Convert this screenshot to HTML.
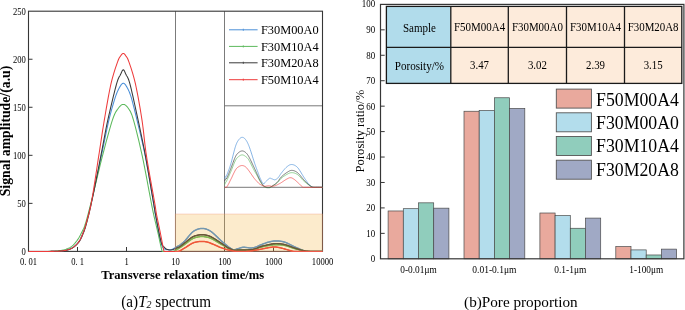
<!DOCTYPE html>
<html><head><meta charset="utf-8"><title>fig</title>
<style>
html,body{margin:0;padding:0;background:#fff;}
body{width:685px;height:310px;position:relative;overflow:hidden;font-family:"Liberation Serif",serif;color:#111;}
svg text{font-family:"Liberation Serif",serif;}
</style></head><body>
<svg width="685" height="310" viewBox="0 0 685 310" style="position:absolute;left:0;top:0;will-change:transform;transform:translateZ(0)" font-family="'Liberation Serif', serif" fill="#000">
<g fill="none" stroke="#6c6c6c" stroke-width="0.9">
<line x1="175.5" y1="11.2" x2="175.5" y2="251.4"/>
<line x1="224.5" y1="11.2" x2="224.5" y2="251.4"/>
<line x1="224.5" y1="105.8" x2="322.5" y2="105.8" stroke="#6a6a6a"/>
<line x1="224.5" y1="187.3" x2="322.5" y2="187.3" stroke="#6a6a6a"/>
</g>
<rect x="28.5" y="11.2" width="294.00" height="240.20" fill="none" stroke="#363636" stroke-width="1.1"/>
<g stroke="#363636" stroke-width="1">
<line x1="28.5" y1="203.36" x2="32.5" y2="203.36"/>
<line x1="28.5" y1="155.32" x2="32.5" y2="155.32"/>
<line x1="28.5" y1="107.28" x2="32.5" y2="107.28"/>
<line x1="28.5" y1="59.24" x2="32.5" y2="59.24"/>
<line x1="77.50" y1="251.4" x2="77.50" y2="247.0"/>
<line x1="126.50" y1="251.4" x2="126.50" y2="247.0"/>
<line x1="175.50" y1="251.4" x2="175.50" y2="247.0"/>
<line x1="224.50" y1="251.4" x2="224.50" y2="247.0"/>
<line x1="273.50" y1="251.4" x2="273.50" y2="247.0"/>
</g>
<path d="M28.40,251.40 L29.76,251.40 L31.59,251.40 L33.78,251.40 L36.23,251.40 L38.82,251.40 L41.45,251.40 L43.99,251.40 L46.33,251.40 L48.37,251.40 L50.00,251.40 L51.23,251.39 L52.20,251.39 L52.95,251.38 L53.52,251.37 L53.98,251.35 L54.35,251.34 L54.69,251.32 L55.05,251.31 L55.47,251.28 L56.00,251.26 L56.60,251.23 L57.20,251.20 L57.80,251.17 L58.40,251.14 L59.00,251.10 L59.60,251.06 L60.20,251.02 L60.80,250.96 L61.40,250.90 L62.00,250.82 L62.60,250.74 L63.21,250.66 L63.82,250.58 L64.42,250.49 L65.03,250.39 L65.64,250.28 L66.24,250.15 L66.83,250.01 L67.42,249.85 L68.00,249.67 L68.57,249.48 L69.13,249.28 L69.69,249.07 L70.24,248.84 L70.78,248.60 L71.32,248.34 L71.87,248.05 L72.41,247.73 L72.95,247.37 L73.50,246.98 L74.06,246.55 L74.62,246.09 L75.20,245.61 L75.77,245.09 L76.34,244.54 L76.91,243.97 L77.46,243.37 L78.00,242.74 L78.51,242.09 L79.00,241.41 L79.46,240.70 L79.91,239.95 L80.34,239.17 L80.75,238.37 L81.14,237.54 L81.53,236.69 L81.91,235.82 L82.28,234.94 L82.64,234.05 L83.00,233.14 L83.34,232.28 L83.66,231.48 L83.95,230.71 L84.23,229.93 L84.51,229.11 L84.80,228.22 L85.10,227.24 L85.43,226.12 L85.79,224.83 L86.20,223.34 L86.63,221.74 L87.07,220.08 L87.52,218.34 L88.00,216.49 L88.49,214.50 L89.02,212.33 L89.59,209.95 L90.21,207.33 L90.88,204.44 L91.60,201.25 L92.41,197.63 L93.30,193.56 L94.26,189.13 L95.27,184.44 L96.31,179.59 L97.36,174.66 L98.41,169.76 L99.43,164.99 L100.40,160.43 L101.30,156.18 L102.15,152.16 L102.97,148.20 L103.77,144.32 L104.54,140.52 L105.29,136.82 L106.03,133.23 L106.76,129.75 L107.48,126.41 L108.19,123.21 L108.90,120.15 L109.61,117.24 L110.32,114.45 L111.02,111.78 L111.71,109.23 L112.39,106.81 L113.06,104.52 L113.71,102.37 L114.33,100.34 L114.93,98.46 L115.50,96.71 L116.04,95.13 L116.55,93.73 L117.04,92.49 L117.51,91.39 L117.96,90.41 L118.39,89.53 L118.80,88.73 L119.21,88.00 L119.61,87.30 L120.00,86.62 L120.38,85.98 L120.74,85.41 L121.08,84.91 L121.41,84.47 L121.73,84.10 L122.04,83.80 L122.35,83.56 L122.66,83.39 L122.98,83.29 L123.30,83.26 L123.63,83.29 L123.94,83.39 L124.26,83.56 L124.57,83.80 L124.88,84.10 L125.20,84.47 L125.53,84.91 L125.87,85.41 L126.23,85.98 L126.60,86.62 L126.99,87.30 L127.38,88.00 L127.79,88.73 L128.20,89.53 L128.63,90.41 L129.07,91.39 L129.53,92.49 L130.00,93.73 L130.49,95.13 L131.00,96.71 L131.52,98.46 L132.06,100.34 L132.61,102.37 L133.17,104.52 L133.76,106.81 L134.36,109.23 L134.98,111.78 L135.63,114.45 L136.30,117.24 L137.00,120.15 L137.74,123.21 L138.52,126.41 L139.33,129.75 L140.17,133.23 L141.03,136.82 L141.90,140.52 L142.77,144.32 L143.63,148.20 L144.48,152.16 L145.30,156.18 L146.13,160.47 L147.00,165.13 L147.88,170.05 L148.77,175.10 L149.64,180.16 L150.48,185.10 L151.27,189.80 L152.00,194.14 L152.65,198.00 L153.20,201.25 L153.64,203.82 L153.97,205.81 L154.22,207.34 L154.40,208.51 L154.53,209.43 L154.64,210.21 L154.76,210.97 L154.89,211.82 L155.06,212.86 L155.30,214.22 L155.59,215.84 L155.91,217.59 L156.25,219.44 L156.60,221.35 L156.97,223.29 L157.34,225.22 L157.70,227.11 L158.05,228.92 L158.39,230.63 L158.70,232.18 L159.00,233.63 L159.29,235.02 L159.57,236.35 L159.84,237.62 L160.11,238.82 L160.36,239.95 L160.61,241.01 L160.85,241.99 L161.08,242.89 L161.30,243.71 L161.51,244.43 L161.69,245.04 L161.87,245.56 L162.03,246.00 L162.19,246.37 L162.34,246.69 L162.50,246.97 L162.66,247.23 L162.82,247.49 L163.00,247.75 L163.19,248.00 L163.37,248.20 L163.56,248.38 L163.75,248.52 L163.95,248.64 L164.15,248.75 L164.35,248.84 L164.56,248.92 L164.78,249.01 L165.00,249.09 L165.23,249.18 L165.45,249.25 L165.68,249.32 L165.92,249.37 L166.16,249.42 L166.40,249.46 L166.66,249.49 L166.93,249.52 L167.21,249.55 L167.50,249.57 L167.81,249.60 L168.12,249.64 L168.44,249.67 L168.78,249.71 L169.12,249.73 L169.48,249.74 L169.84,249.74 L170.22,249.71 L170.60,249.66 L171.00,249.57 L171.41,249.46 L171.84,249.32 L172.28,249.15 L172.73,248.96 L173.19,248.76 L173.65,248.54 L174.12,248.30 L174.58,248.06 L175.05,247.81 L175.50,247.56 L175.95,247.30 L176.39,247.03 L176.83,246.75 L177.28,246.46 L177.72,246.16 L178.16,246.33 L178.61,246.01 L179.07,245.67 L179.53,245.33 L180.00,244.96 L180.47,244.60 L180.94,244.24 L181.40,243.88 L181.87,243.50 L182.34,243.11 L182.83,242.70 L183.34,242.25 L183.86,241.76 L184.42,241.23 L185.00,240.64 L185.63,239.96 L186.30,239.18 L187.02,238.34 L187.75,237.44 L188.50,236.53 L189.25,235.62 L189.98,234.74 L190.70,233.92 L191.37,233.19 L192.00,232.57 L192.58,232.05 L193.13,231.60 L193.65,231.22 L194.14,230.88 L194.62,230.59 L195.10,230.34 L195.56,230.11 L196.03,229.90 L196.51,229.70 L197.00,229.49 L197.50,229.30 L198.00,229.12 L198.50,228.96 L199.00,228.83 L199.50,228.71 L200.00,228.62 L200.50,228.54 L201.00,228.49 L201.50,228.45 L202.00,228.44 L202.50,228.44 L202.99,228.46 L203.48,228.50 L203.98,228.57 L204.47,228.65 L204.96,228.75 L205.46,228.88 L205.97,229.03 L206.48,229.20 L207.00,229.40 L207.52,229.61 L208.02,229.83 L208.53,230.07 L209.03,230.32 L209.54,230.60 L210.07,230.92 L210.63,231.28 L211.21,231.69 L211.83,232.14 L212.50,232.66 L213.23,233.28 L214.04,233.99 L214.90,234.79 L215.79,235.64 L216.70,236.51 L217.60,237.39 L218.49,238.25 L219.33,239.06 L220.10,239.80 L220.80,240.45 L221.42,241.00 L221.98,241.49 L222.50,241.94 L222.98,242.34 L223.43,242.71 L223.86,243.06 L224.27,243.39 L224.68,243.72 L225.08,244.04 L225.50,244.39 L225.91,244.73 L226.31,245.06 L226.69,245.39 L227.06,245.70 L227.42,246.01 L227.78,246.31 L228.14,246.60 L228.52,246.89 L228.90,247.17 L229.30,247.42 L229.72,247.69 L230.14,247.97 L230.58,248.26 L231.02,248.54 L231.47,248.82 L231.92,249.07 L232.37,249.31 L232.82,249.50 L233.26,249.66 L233.70,249.76 L234.13,249.80 L234.56,249.79 L234.98,249.74 L235.39,249.46 L235.81,249.34 L236.23,249.20 L236.66,249.04 L237.10,248.89 L237.54,248.74 L238.00,248.61 L238.48,248.49 L238.97,248.34 L239.48,248.19 L240.00,248.02 L240.52,247.86 L241.04,247.71 L241.55,247.56 L242.05,247.44 L242.54,247.34 L243.00,247.27 L243.44,247.23 L243.86,247.22 L244.27,247.23 L244.66,247.26 L245.05,247.30 L245.43,247.36 L245.82,247.41 L246.20,247.47 L246.60,247.52 L247.00,247.56 L247.41,247.60 L247.82,247.65 L248.23,247.71 L248.64,247.77 L249.05,247.83 L249.47,247.88 L249.89,247.92 L250.32,247.95 L250.75,247.96 L251.20,247.94 L251.66,247.90 L252.13,247.85 L252.61,247.79 L253.09,247.70 L253.58,247.61 L254.07,247.51 L254.56,247.39 L255.05,247.26 L255.53,247.13 L256.00,246.98 L256.45,246.83 L256.86,246.66 L257.26,246.48 L257.64,246.29 L258.04,246.09 L258.45,245.88 L258.89,245.66 L259.37,245.44 L259.90,245.20 L260.50,244.96 L261.17,244.70 L261.91,244.41 L262.71,244.11 L263.54,243.79 L264.41,243.47 L265.29,243.15 L266.17,242.85 L267.04,242.56 L267.89,242.30 L268.70,242.08 L269.48,241.88 L270.24,241.70 L270.99,241.53 L271.73,241.37 L272.47,241.24 L273.21,241.13 L273.96,241.04 L274.72,240.97 L275.50,240.93 L276.30,240.93 L277.12,240.95 L277.96,240.99 L278.81,241.05 L279.67,241.14 L280.54,241.25 L281.42,241.39 L282.30,241.56 L283.20,241.77 L284.10,242.00 L285.00,242.27 L285.92,242.60 L286.86,242.98 L287.83,243.41 L288.80,243.87 L289.77,244.36 L290.74,244.86 L291.69,245.35 L292.62,245.83 L293.53,246.28 L294.40,246.69 L295.25,247.07 L296.08,247.45 L296.91,247.82 L297.72,248.18 L298.51,248.53 L299.27,248.86 L300.00,249.17 L300.71,249.46 L301.37,249.72 L302.00,249.96 L302.58,250.16 L303.11,250.34 L303.61,250.49 L304.07,250.61 L304.51,250.72 L304.92,250.81 L305.32,250.90 L305.71,250.97 L306.10,251.04 L306.50,251.11 L306.85,251.18 L307.12,251.23 L307.34,251.27 L307.54,251.30 L307.74,251.33 L307.99,251.35 L308.31,251.36 L308.73,251.37 L309.29,251.39 L310.00,251.40 L310.95,251.40 L312.14,251.40 L313.51,251.40 L314.99,251.40 L316.52,251.40 L318.03,251.40 L319.46,251.40 L320.74,251.40 L321.81,251.40 L322.60,251.40" fill="none" stroke="#4a8fd8" stroke-width="1.05" stroke-linejoin="round"/>
<path d="M28.40,251.40 L29.63,251.40 L31.28,251.40 L33.27,251.40 L35.48,251.40 L37.82,251.40 L40.20,251.40 L42.50,251.40 L44.64,251.40 L46.50,251.40 L48.00,251.40 L49.15,251.39 L50.07,251.38 L50.80,251.37 L51.38,251.36 L51.85,251.34 L52.25,251.32 L52.63,251.30 L53.02,251.27 L53.46,251.24 L54.00,251.21 L54.60,251.17 L55.20,251.13 L55.80,251.09 L56.40,251.04 L57.00,250.99 L57.60,250.94 L58.20,250.87 L58.80,250.80 L59.40,250.72 L60.00,250.63 L60.60,250.54 L61.20,250.44 L61.80,250.34 L62.40,250.24 L63.00,250.12 L63.60,249.99 L64.20,249.85 L64.80,249.68 L65.40,249.50 L66.00,249.29 L66.60,249.06 L67.21,248.82 L67.82,248.57 L68.42,248.30 L69.03,248.01 L69.64,247.69 L70.24,247.35 L70.83,246.98 L71.42,246.57 L72.00,246.12 L72.58,245.62 L73.15,245.09 L73.72,244.51 L74.29,243.91 L74.86,243.28 L75.41,242.62 L75.95,241.95 L76.48,241.26 L77.00,240.57 L77.50,239.87 L77.98,239.17 L78.45,238.44 L78.90,237.71 L79.34,236.95 L79.76,236.19 L80.18,235.41 L80.59,234.62 L81.00,233.82 L81.40,233.01 L81.80,232.18 L82.18,231.41 L82.54,230.70 L82.88,230.03 L83.22,229.37 L83.55,228.67 L83.89,227.89 L84.25,227.01 L84.63,225.98 L85.04,224.77 L85.50,223.34 L85.98,221.78 L86.46,220.14 L86.95,218.41 L87.46,216.56 L87.99,214.56 L88.57,212.38 L89.19,209.98 L89.86,207.35 L90.59,204.45 L91.40,201.25 L92.30,197.63 L93.29,193.56 L94.36,189.13 L95.48,184.44 L96.64,179.59 L97.83,174.66 L99.01,169.76 L100.18,164.99 L101.32,160.43 L102.40,156.18 L103.46,152.11 L104.53,148.01 L105.61,143.94 L106.68,139.94 L107.74,136.07 L108.76,132.36 L109.75,128.87 L110.70,125.64 L111.58,122.72 L112.40,120.15 L113.14,117.98 L113.81,116.18 L114.41,114.69 L114.97,113.47 L115.49,112.46 L115.99,111.60 L116.48,110.85 L116.97,110.16 L117.47,109.47 L118.00,108.72 L118.54,107.96 L119.08,107.26 L119.61,106.63 L120.14,106.06 L120.67,105.57 L121.19,105.16 L121.72,104.84 L122.24,104.60 L122.77,104.45 L123.30,104.40 L123.83,104.45 L124.37,104.60 L124.90,104.84 L125.44,105.16 L125.97,105.57 L126.51,106.06 L127.04,106.63 L127.57,107.26 L128.09,107.96 L128.60,108.72 L129.09,109.47 L129.54,110.16 L129.98,110.85 L130.40,111.60 L130.83,112.46 L131.28,113.47 L131.76,114.69 L132.28,116.18 L132.85,117.98 L133.50,120.15 L134.22,122.72 L135.01,125.64 L135.86,128.87 L136.74,132.36 L137.66,136.07 L138.60,139.94 L139.54,143.94 L140.48,148.01 L141.41,152.11 L142.30,156.18 L143.20,160.47 L144.14,165.13 L145.11,170.05 L146.08,175.10 L147.04,180.16 L147.96,185.10 L148.84,189.80 L149.65,194.14 L150.38,198.00 L151.00,201.25 L151.50,203.82 L151.88,205.81 L152.18,207.34 L152.40,208.51 L152.58,209.43 L152.74,210.21 L152.89,210.97 L153.08,211.82 L153.30,212.86 L153.60,214.22 L153.96,215.84 L154.36,217.58 L154.79,219.41 L155.24,221.31 L155.69,223.23 L156.15,225.15 L156.60,227.04 L157.03,228.86 L157.43,230.59 L157.80,232.18 L158.14,233.69 L158.46,235.15 L158.76,236.56 L159.06,237.92 L159.33,239.22 L159.59,240.46 L159.84,241.63 L160.07,242.73 L160.29,243.74 L160.50,244.67 L160.69,245.51 L160.86,246.25 L161.01,246.91 L161.14,247.49 L161.27,248.01 L161.38,248.47 L161.49,248.88 L161.59,249.26 L161.70,249.62 L161.80,249.96 L161.89,250.27 L161.95,250.52 L161.99,250.72 L162.03,250.88 L162.07,251.01 L162.12,251.11 L162.18,251.19 L162.28,251.27 L162.42,251.33 L162.60,251.40 L162.82,251.40 L163.07,251.40 L163.35,251.40 L163.65,251.40 L163.97,251.40 L164.33,251.40 L164.71,251.40 L165.11,251.40 L165.54,251.40 L166.00,251.40 L166.51,251.40 L167.07,251.40 L167.69,251.40 L168.33,251.40 L168.99,251.40 L169.66,251.40 L170.30,251.40 L170.92,251.40 L171.49,251.40 L172.00,251.40 L172.45,251.34 L172.84,251.27 L173.20,251.20 L173.53,251.11 L173.84,251.02 L174.15,250.90 L174.46,250.77 L174.78,250.62 L175.12,250.45 L175.50,250.25 L175.91,250.02 L176.33,249.76 L176.76,249.48 L177.20,249.17 L177.66,248.85 L178.12,248.81 L178.58,248.51 L179.05,248.20 L179.53,247.89 L180.00,247.60 L180.47,247.30 L180.94,247.01 L181.40,246.70 L181.87,246.38 L182.34,246.06 L182.83,245.72 L183.34,245.37 L183.86,245.00 L184.42,244.61 L185.00,244.19 L185.63,243.73 L186.30,243.21 L187.02,242.66 L187.75,242.08 L188.50,241.50 L189.25,240.92 L189.98,240.37 L190.70,239.86 L191.37,239.40 L192.00,239.01 L192.58,238.68 L193.13,238.41 L193.65,238.17 L194.14,237.98 L194.62,237.81 L195.10,237.67 L195.56,237.54 L196.03,237.42 L196.51,237.30 L197.00,237.18 L197.50,237.06 L198.00,236.95 L198.50,236.85 L199.00,236.76 L199.50,236.69 L200.00,236.62 L200.50,236.57 L201.00,236.54 L201.50,236.52 L202.00,236.51 L202.50,236.52 L203.00,236.54 L203.50,236.58 L204.00,236.63 L204.51,236.70 L205.01,236.78 L205.51,236.87 L206.01,236.96 L206.50,237.07 L207.00,237.18 L207.48,237.29 L207.94,237.39 L208.38,237.50 L208.81,237.61 L209.26,237.74 L209.71,237.89 L210.20,238.06 L210.72,238.27 L211.28,238.52 L211.90,238.81 L212.59,239.18 L213.36,239.61 L214.19,240.09 L215.06,240.61 L215.94,241.15 L216.83,241.70 L217.70,242.23 L218.53,242.74 L219.30,243.21 L220.00,243.62 L220.63,243.97 L221.21,244.29 L221.76,244.59 L222.27,244.86 L222.76,245.11 L223.22,245.35 L223.67,245.58 L224.11,245.82 L224.55,246.06 L225.00,246.31 L225.44,246.57 L225.85,246.83 L226.25,247.09 L226.64,247.32 L227.02,247.55 L227.40,247.78 L227.78,248.00 L228.17,248.22 L228.58,248.43 L229.00,248.63 L229.44,248.83 L229.90,249.04 L230.37,249.24 L230.85,249.44 L231.33,249.63 L231.82,249.81 L232.30,249.98 L232.77,250.13 L233.24,250.26 L233.70,250.36 L234.14,250.44 L234.57,250.49 L235.00,250.51 L235.42,250.43 L235.83,250.42 L236.25,250.41 L236.67,250.39 L237.10,250.37 L237.54,250.35 L238.00,250.34 L238.46,250.34 L238.90,250.34 L239.35,250.34 L239.80,250.33 L240.26,250.33 L240.74,250.32 L241.24,250.30 L241.78,250.29 L242.37,250.27 L243.00,250.25 L243.71,250.22 L244.49,250.20 L245.33,250.17 L246.21,250.14 L247.11,250.11 L248.01,250.07 L248.89,250.03 L249.73,249.98 L250.50,249.93 L251.20,249.86 L251.82,249.79 L252.38,249.72 L252.90,249.64 L253.38,249.55 L253.83,249.46 L254.26,249.36 L254.69,249.26 L255.11,249.15 L255.55,249.03 L256.00,248.90 L256.45,248.77 L256.86,248.62 L257.26,248.46 L257.64,248.30 L258.04,248.13 L258.45,247.96 L258.89,247.79 L259.37,247.61 L259.90,247.44 L260.50,247.27 L261.17,247.10 L261.91,246.91 L262.71,246.73 L263.54,246.54 L264.41,246.36 L265.29,246.17 L266.17,246.00 L267.04,245.83 L267.89,245.68 L268.70,245.54 L269.48,245.41 L270.24,245.28 L270.99,245.16 L271.73,245.05 L272.47,244.94 L273.21,244.85 L273.96,244.78 L274.72,244.72 L275.50,244.69 L276.30,244.67 L277.12,244.68 L277.96,244.70 L278.81,244.74 L279.67,244.79 L280.54,244.87 L281.42,244.96 L282.30,245.07 L283.20,245.20 L284.10,245.36 L285.00,245.54 L285.92,245.76 L286.86,246.02 L287.83,246.31 L288.80,246.63 L289.77,246.97 L290.74,247.31 L291.69,247.64 L292.62,247.96 L293.53,248.26 L294.40,248.52 L295.25,248.75 L296.08,248.97 L296.91,249.18 L297.72,249.38 L298.51,249.57 L299.27,249.74 L300.00,249.91 L300.71,250.06 L301.37,250.21 L302.00,250.34 L302.58,250.47 L303.11,250.58 L303.61,250.68 L304.07,250.77 L304.51,250.85 L304.92,250.92 L305.32,250.99 L305.71,251.05 L306.10,251.11 L306.50,251.16 L306.85,251.21 L307.12,251.25 L307.34,251.28 L307.54,251.31 L307.74,251.33 L307.99,251.35 L308.31,251.36 L308.73,251.38 L309.29,251.39 L310.00,251.40 L310.95,251.40 L312.14,251.40 L313.51,251.40 L314.99,251.40 L316.52,251.40 L318.03,251.40 L319.46,251.40 L320.74,251.40 L321.81,251.40 L322.60,251.40" fill="none" stroke="#5cb95c" stroke-width="1.05" stroke-linejoin="round"/>
<path d="M28.40,251.40 L29.76,251.40 L31.59,251.40 L33.78,251.40 L36.23,251.40 L38.82,251.40 L41.45,251.40 L43.99,251.40 L46.33,251.40 L48.37,251.40 L50.00,251.40 L51.23,251.39 L52.20,251.38 L52.95,251.37 L53.52,251.36 L53.98,251.35 L54.35,251.33 L54.69,251.32 L55.05,251.30 L55.47,251.28 L56.00,251.26 L56.60,251.23 L57.20,251.21 L57.80,251.19 L58.40,251.17 L59.00,251.14 L59.60,251.12 L60.20,251.08 L60.80,251.04 L61.40,250.98 L62.00,250.92 L62.60,250.85 L63.21,250.78 L63.82,250.70 L64.42,250.62 L65.03,250.53 L65.64,250.43 L66.24,250.32 L66.83,250.18 L67.42,250.03 L68.00,249.86 L68.57,249.68 L69.13,249.49 L69.68,249.30 L70.22,249.09 L70.76,248.87 L71.30,248.62 L71.84,248.34 L72.39,248.02 L72.94,247.67 L73.50,247.27 L74.08,246.83 L74.67,246.34 L75.27,245.83 L75.88,245.27 L76.49,244.69 L77.10,244.08 L77.68,243.45 L78.25,242.79 L78.79,242.11 L79.30,241.41 L79.78,240.69 L80.23,239.93 L80.66,239.15 L81.07,238.35 L81.46,237.52 L81.84,236.68 L82.22,235.81 L82.58,234.93 L82.94,234.04 L83.30,233.14 L83.64,232.28 L83.96,231.48 L84.25,230.71 L84.54,229.93 L84.82,229.11 L85.11,228.22 L85.41,227.24 L85.74,226.12 L86.10,224.83 L86.50,223.34 L86.93,221.74 L87.37,220.08 L87.82,218.34 L88.29,216.49 L88.79,214.50 L89.31,212.33 L89.87,209.95 L90.47,207.33 L91.11,204.44 L91.80,201.25 L92.56,197.63 L93.40,193.56 L94.29,189.13 L95.23,184.44 L96.19,179.59 L97.17,174.66 L98.13,169.76 L99.07,164.99 L99.96,160.43 L100.80,156.18 L101.57,152.22 L102.30,148.40 L102.99,144.71 L103.66,141.12 L104.32,137.60 L104.97,134.13 L105.64,130.67 L106.32,127.21 L107.04,123.71 L107.80,120.15 L108.62,116.44 L109.51,112.54 L110.43,108.54 L111.38,104.51 L112.34,100.54 L113.28,96.69 L114.18,93.06 L115.03,89.72 L115.81,86.75 L116.50,84.22 L117.10,82.17 L117.62,80.54 L118.08,79.25 L118.50,78.25 L118.87,77.47 L119.21,76.85 L119.54,76.31 L119.85,75.81 L120.17,75.26 L120.50,74.61 L120.83,73.89 L121.14,73.19 L121.43,72.52 L121.71,71.88 L121.98,71.31 L122.24,70.81 L122.51,70.39 L122.77,70.08 L123.03,69.88 L123.30,69.81 L123.57,69.88 L123.83,70.08 L124.08,70.39 L124.32,70.81 L124.57,71.31 L124.83,71.88 L125.10,72.52 L125.38,73.19 L125.68,73.89 L126.00,74.61 L126.33,75.26 L126.65,75.81 L126.98,76.31 L127.31,76.85 L127.66,77.47 L128.04,78.25 L128.46,79.25 L128.92,80.54 L129.43,82.17 L130.00,84.22 L130.65,86.75 L131.37,89.72 L132.15,93.06 L132.98,96.69 L133.84,100.54 L134.71,104.51 L135.59,108.54 L136.46,112.54 L137.30,116.44 L138.10,120.15 L138.87,123.71 L139.62,127.21 L140.36,130.67 L141.09,134.13 L141.82,137.60 L142.54,141.12 L143.27,144.71 L144.01,148.40 L144.75,152.22 L145.50,156.18 L146.29,160.47 L147.12,165.13 L147.99,170.05 L148.86,175.10 L149.73,180.16 L150.56,185.10 L151.36,189.80 L152.09,194.14 L152.75,198.00 L153.30,201.25 L153.74,203.82 L154.08,205.81 L154.33,207.34 L154.53,208.51 L154.68,209.43 L154.80,210.21 L154.93,210.97 L155.07,211.82 L155.26,212.86 L155.50,214.22 L155.80,215.84 L156.12,217.61 L156.46,219.47 L156.82,221.40 L157.18,223.35 L157.55,225.29 L157.91,227.18 L158.26,228.98 L158.59,230.66 L158.90,232.18 L159.19,233.57 L159.48,234.89 L159.75,236.13 L160.02,237.30 L160.28,238.40 L160.52,239.42 L160.76,240.37 L160.98,241.24 L161.20,242.03 L161.40,242.75 L161.59,243.37 L161.75,243.88 L161.91,244.29 L162.05,244.61 L162.18,244.88 L162.31,245.10 L162.43,245.28 L162.55,245.46 L162.67,245.63 L162.80,245.83 L162.92,246.02 L163.04,246.17 L163.15,246.29 L163.26,246.39 L163.36,246.48 L163.47,246.56 L163.59,246.65 L163.71,246.74 L163.85,246.85 L164.00,246.98 L164.17,247.14 L164.35,247.32 L164.54,247.51 L164.74,247.71 L164.95,247.91 L165.16,248.11 L165.37,248.31 L165.59,248.49 L165.80,248.66 L166.00,248.81 L166.20,248.93 L166.38,249.05 L166.57,249.15 L166.75,249.25 L166.94,249.33 L167.13,249.41 L167.33,249.48 L167.54,249.55 L167.76,249.61 L168.00,249.67 L168.25,249.73 L168.51,249.79 L168.78,249.85 L169.06,249.91 L169.34,249.96 L169.64,250.00 L169.96,250.02 L170.29,250.02 L170.63,250.00 L171.00,249.96 L171.39,249.89 L171.80,249.80 L172.24,249.69 L172.69,249.56 L173.16,249.41 L173.63,249.25 L174.10,249.08 L174.58,248.90 L175.04,248.71 L175.50,248.52 L175.95,248.32 L176.39,248.11 L176.83,247.89 L177.28,247.65 L177.72,247.41 L178.16,247.58 L178.61,247.34 L179.07,247.09 L179.53,246.81 L180.00,246.50 L180.47,246.18 L180.94,245.86 L181.40,245.52 L181.87,245.17 L182.34,244.81 L182.83,244.44 L183.34,244.04 L183.86,243.63 L184.42,243.20 L185.00,242.75 L185.63,242.26 L186.30,241.71 L187.02,241.12 L187.75,240.52 L188.50,239.90 L189.25,239.29 L189.98,238.71 L190.70,238.17 L191.37,237.69 L192.00,237.28 L192.58,236.93 L193.13,236.64 L193.65,236.40 L194.14,236.19 L194.62,236.02 L195.10,235.86 L195.56,235.73 L196.03,235.60 L196.51,235.48 L197.00,235.35 L197.50,235.23 L198.00,235.12 L198.50,235.02 L199.00,234.93 L199.50,234.86 L200.00,234.79 L200.50,234.75 L201.00,234.71 L201.50,234.69 L202.00,234.68 L202.50,234.69 L203.00,234.71 L203.50,234.75 L204.00,234.79 L204.51,234.86 L205.01,234.93 L205.51,235.02 L206.01,235.12 L206.50,235.23 L207.00,235.35 L207.48,235.48 L207.94,235.61 L208.38,235.74 L208.81,235.88 L209.26,236.04 L209.71,236.22 L210.20,236.43 L210.72,236.67 L211.28,236.95 L211.90,237.28 L212.59,237.66 L213.36,238.12 L214.19,238.63 L215.06,239.17 L215.94,239.73 L216.83,240.30 L217.70,240.87 L218.53,241.41 L219.30,241.92 L220.00,242.37 L220.63,242.78 L221.21,243.16 L221.76,243.53 L222.27,243.88 L222.76,244.21 L223.22,244.52 L223.67,244.83 L224.11,245.14 L224.55,245.43 L225.00,245.73 L225.44,246.02 L225.85,246.31 L226.25,246.58 L226.64,246.85 L227.02,247.10 L227.40,247.33 L227.78,247.55 L228.17,247.77 L228.58,247.99 L229.00,248.20 L229.44,248.42 L229.90,248.64 L230.37,248.86 L230.85,249.08 L231.33,249.29 L231.82,249.49 L232.30,249.68 L232.77,249.85 L233.24,249.99 L233.70,250.10 L234.14,250.19 L234.57,250.24 L235.00,250.27 L235.42,250.15 L235.83,250.14 L236.25,250.13 L236.67,250.10 L237.10,250.08 L237.54,250.06 L238.00,250.05 L238.46,250.05 L238.90,250.05 L239.35,250.05 L239.80,250.04 L240.26,250.03 L240.74,250.02 L241.24,250.01 L241.78,249.99 L242.37,249.98 L243.00,249.96 L243.71,249.94 L244.49,249.93 L245.33,249.91 L246.21,249.90 L247.11,249.88 L248.01,249.86 L248.89,249.83 L249.73,249.79 L250.50,249.74 L251.20,249.67 L251.82,249.59 L252.38,249.51 L252.90,249.41 L253.38,249.30 L253.83,249.19 L254.26,249.07 L254.69,248.94 L255.11,248.81 L255.55,248.66 L256.00,248.52 L256.45,248.36 L256.86,248.20 L257.26,248.03 L257.64,247.85 L258.04,247.66 L258.45,247.47 L258.89,247.28 L259.37,247.08 L259.90,246.89 L260.50,246.69 L261.17,246.49 L261.91,246.29 L262.71,246.07 L263.54,245.85 L264.41,245.64 L265.29,245.42 L266.17,245.22 L267.04,245.02 L267.89,244.84 L268.70,244.67 L269.48,244.52 L270.24,244.37 L270.99,244.22 L271.73,244.08 L272.47,243.95 L273.21,243.84 L273.96,243.75 L274.72,243.68 L275.50,243.63 L276.30,243.62 L277.12,243.63 L277.96,243.66 L278.81,243.71 L279.67,243.78 L280.54,243.88 L281.42,243.99 L282.30,244.13 L283.20,244.29 L284.10,244.47 L285.00,244.67 L285.92,244.92 L286.86,245.20 L287.83,245.52 L288.80,245.87 L289.77,246.23 L290.74,246.60 L291.69,246.96 L292.62,247.31 L293.53,247.64 L294.40,247.94 L295.25,248.22 L296.08,248.49 L296.91,248.75 L297.72,249.00 L298.51,249.24 L299.27,249.47 L300.00,249.69 L300.71,249.89 L301.37,250.08 L302.00,250.25 L302.58,250.40 L303.11,250.53 L303.61,250.64 L304.07,250.74 L304.51,250.83 L304.92,250.91 L305.32,250.98 L305.71,251.04 L306.10,251.10 L306.50,251.16 L306.85,251.21 L307.12,251.25 L307.34,251.29 L307.54,251.32 L307.74,251.34 L307.99,251.35 L308.31,251.37 L308.73,251.38 L309.29,251.39 L310.00,251.40 L310.95,251.40 L312.14,251.40 L313.51,251.40 L314.99,251.40 L316.52,251.40 L318.03,251.40 L319.46,251.40 L320.74,251.40 L321.81,251.40 L322.60,251.40" fill="none" stroke="#3a3a3a" stroke-width="1.05" stroke-linejoin="round"/>
<path d="M28.40,251.40 L29.76,251.40 L31.59,251.40 L33.78,251.40 L36.23,251.40 L38.82,251.40 L41.45,251.40 L43.99,251.40 L46.33,251.40 L48.37,251.40 L50.00,251.40 L51.23,251.39 L52.20,251.38 L52.95,251.37 L53.52,251.36 L53.98,251.35 L54.35,251.33 L54.69,251.32 L55.05,251.30 L55.47,251.28 L56.00,251.26 L56.60,251.23 L57.20,251.21 L57.80,251.19 L58.40,251.17 L59.00,251.15 L59.60,251.12 L60.20,251.09 L60.80,251.04 L61.40,250.99 L62.00,250.92 L62.60,250.84 L63.21,250.77 L63.82,250.68 L64.42,250.59 L65.03,250.49 L65.64,250.38 L66.24,250.25 L66.83,250.11 L67.42,249.95 L68.00,249.77 L68.57,249.57 L69.13,249.37 L69.69,249.17 L70.24,248.94 L70.78,248.70 L71.32,248.44 L71.87,248.15 L72.41,247.83 L72.95,247.47 L73.50,247.08 L74.06,246.64 L74.62,246.17 L75.20,245.68 L75.77,245.15 L76.34,244.59 L76.91,244.00 L77.46,243.39 L78.00,242.76 L78.51,242.09 L79.00,241.41 L79.46,240.69 L79.91,239.95 L80.34,239.17 L80.75,238.36 L81.14,237.53 L81.53,236.69 L81.91,235.82 L82.28,234.94 L82.64,234.05 L83.00,233.14 L83.34,232.28 L83.66,231.48 L83.95,230.71 L84.23,229.93 L84.51,229.11 L84.80,228.22 L85.10,227.24 L85.43,226.12 L85.79,224.83 L86.20,223.34 L86.64,221.74 L87.11,220.08 L87.60,218.34 L88.12,216.49 L88.66,214.50 L89.21,212.33 L89.79,209.95 L90.38,207.33 L90.98,204.44 L91.60,201.25 L92.25,197.63 L92.94,193.56 L93.65,189.13 L94.39,184.44 L95.14,179.59 L95.89,174.66 L96.63,169.76 L97.35,164.99 L98.04,160.43 L98.70,156.18 L99.32,152.22 L99.90,148.40 L100.46,144.71 L101.00,141.12 L101.53,137.60 L102.06,134.13 L102.59,130.67 L103.14,127.21 L103.71,123.71 L104.30,120.15 L104.92,116.50 L105.56,112.74 L106.21,108.93 L106.87,105.11 L107.54,101.32 L108.21,97.59 L108.89,93.98 L109.56,90.52 L110.24,87.25 L110.90,84.22 L111.57,81.38 L112.27,78.67 L112.98,76.09 L113.69,73.65 L114.39,71.35 L115.08,69.19 L115.75,67.19 L116.38,65.34 L116.97,63.65 L117.50,62.12 L117.98,60.81 L118.42,59.72 L118.82,58.82 L119.18,58.09 L119.52,57.50 L119.84,57.00 L120.14,56.58 L120.43,56.19 L120.71,55.81 L121.00,55.40 L121.28,54.99 L121.54,54.64 L121.78,54.35 L122.01,54.10 L122.23,53.90 L122.44,53.74 L122.66,53.62 L122.87,53.54 L123.08,53.49 L123.30,53.48 L123.52,53.49 L123.73,53.54 L123.93,53.62 L124.12,53.74 L124.32,53.90 L124.53,54.10 L124.75,54.35 L124.98,54.64 L125.23,54.99 L125.50,55.40 L125.78,55.81 L126.07,56.19 L126.36,56.58 L126.66,57.00 L126.98,57.50 L127.32,58.09 L127.69,58.82 L128.09,59.72 L128.52,60.81 L129.00,62.12 L129.53,63.65 L130.11,65.34 L130.73,67.19 L131.38,69.19 L132.06,71.35 L132.76,73.65 L133.46,76.09 L134.15,78.67 L134.84,81.38 L135.50,84.22 L136.16,87.25 L136.83,90.52 L137.51,93.98 L138.20,97.59 L138.88,101.32 L139.54,105.11 L140.20,108.93 L140.83,112.74 L141.43,116.50 L142.00,120.15 L142.52,123.71 L142.97,127.21 L143.39,130.67 L143.78,134.13 L144.16,137.60 L144.55,141.12 L144.96,144.71 L145.41,148.40 L145.92,152.22 L146.50,156.18 L147.18,160.47 L147.96,165.13 L148.80,170.05 L149.69,175.10 L150.60,180.16 L151.49,185.10 L152.35,189.80 L153.14,194.14 L153.83,198.00 L154.40,201.25 L154.84,203.82 L155.17,205.81 L155.41,207.34 L155.58,208.51 L155.71,209.43 L155.82,210.21 L155.94,210.97 L156.07,211.82 L156.25,212.86 L156.50,214.22 L156.81,215.83 L157.16,217.56 L157.53,219.38 L157.92,221.26 L158.32,223.17 L158.72,225.08 L159.12,226.97 L159.50,228.80 L159.87,230.55 L160.20,232.18 L160.51,233.75 L160.82,235.30 L161.11,236.82 L161.40,238.30 L161.67,239.73 L161.93,241.09 L162.17,242.38 L162.40,243.57 L162.61,244.66 L162.80,245.64 L162.97,246.48 L163.11,247.21 L163.23,247.83 L163.33,248.36 L163.43,248.82 L163.51,249.21 L163.58,249.55 L163.65,249.86 L163.72,250.15 L163.80,250.44 L163.85,250.70 L163.87,250.89 L163.85,251.04 L163.83,251.15 L163.81,251.22 L163.82,251.27 L163.87,251.30 L163.97,251.33 L164.14,251.36 L164.40,251.40 L164.75,251.40 L165.16,251.40 L165.64,251.40 L166.16,251.40 L166.74,251.40 L167.35,251.40 L167.99,251.40 L168.65,251.40 L169.32,251.40 L170.00,251.40 L170.73,251.40 L171.53,251.40 L172.38,251.40 L173.27,251.40 L174.16,251.40 L175.04,251.40 L175.89,251.40 L176.68,251.40 L177.39,251.40 L178.00,251.40 L178.50,251.33 L178.90,251.25 L179.24,251.16 L179.51,251.06 L179.75,250.95 L179.97,250.82 L180.18,250.68 L180.42,250.53 L180.68,250.36 L181.00,250.19 L181.35,250.00 L181.69,249.81 L182.03,249.60 L182.38,249.38 L182.75,249.15 L183.14,248.91 L183.55,248.65 L183.99,248.37 L184.47,248.08 L185.00,247.77 L185.59,247.42 L186.24,247.03 L186.94,246.56 L187.68,246.06 L188.44,245.56 L189.20,245.07 L189.95,244.59 L190.68,244.15 L191.37,243.76 L192.00,243.43 L192.58,243.15 L193.13,242.92 L193.65,242.72 L194.14,242.55 L194.62,242.41 L195.10,242.29 L195.56,242.18 L196.03,242.08 L196.51,241.99 L197.00,241.89 L197.50,241.79 L198.00,241.71 L198.50,241.63 L199.00,241.57 L199.50,241.52 L200.00,241.47 L200.50,241.44 L201.00,241.42 L201.50,241.41 L202.00,241.41 L202.50,241.42 L203.00,241.44 L203.50,241.47 L204.00,241.51 L204.51,241.56 L205.01,241.62 L205.51,241.69 L206.01,241.78 L206.50,241.88 L207.00,241.98 L207.48,242.10 L207.94,242.23 L208.38,242.36 L208.81,242.51 L209.26,242.66 L209.71,242.84 L210.20,243.02 L210.72,243.23 L211.28,243.46 L211.90,243.71 L212.60,244.00 L213.37,244.34 L214.21,244.70 L215.08,245.09 L215.98,245.49 L216.87,245.89 L217.73,246.28 L218.56,246.65 L219.32,246.98 L220.00,247.25 L220.60,247.47 L221.15,247.67 L221.65,247.85 L222.12,248.02 L222.55,248.16 L222.96,248.30 L223.35,248.43 L223.73,248.55 L224.11,248.68 L224.50,248.81 L224.87,248.93 L225.20,249.05 L225.50,249.15 L225.78,249.25 L226.06,249.35 L226.35,249.45 L226.66,249.54 L226.99,249.64 L227.37,249.74 L227.80,249.84 L228.30,249.96 L228.86,250.07 L229.46,250.20 L230.10,250.32 L230.75,250.44 L231.40,250.56 L232.04,250.68 L232.64,250.79 L233.20,250.88 L233.70,250.97 L234.13,251.04 L234.52,251.11 L234.86,251.16 L235.17,251.19 L235.47,251.24 L235.75,251.28 L236.04,251.32 L236.34,251.35 L236.65,251.37 L237.00,251.40 L237.37,251.40 L237.74,251.40 L238.12,251.40 L238.50,251.40 L238.89,251.40 L239.29,251.40 L239.70,251.40 L240.12,251.40 L240.56,251.40 L241.00,251.40 L241.46,251.40 L241.93,251.40 L242.42,251.40 L242.92,251.40 L243.42,251.40 L243.94,251.40 L244.45,251.40 L244.97,251.40 L245.49,251.40 L246.00,251.40 L246.51,251.37 L247.03,251.32 L247.56,251.28 L248.08,251.22 L248.61,251.16 L249.14,251.10 L249.66,251.03 L250.18,250.96 L250.70,250.89 L251.20,250.82 L251.70,250.75 L252.19,250.68 L252.68,250.61 L253.16,250.53 L253.64,250.45 L254.12,250.37 L254.59,250.29 L255.07,250.21 L255.53,250.13 L256.00,250.05 L256.45,249.98 L256.86,249.91 L257.26,249.85 L257.64,249.79 L258.04,249.72 L258.45,249.66 L258.89,249.58 L259.37,249.50 L259.90,249.40 L260.50,249.29 L261.18,249.15 L261.94,249.00 L262.76,248.83 L263.62,248.65 L264.51,248.46 L265.41,248.28 L266.29,248.10 L267.15,247.93 L267.96,247.78 L268.70,247.65 L269.38,247.54 L270.03,247.43 L270.64,247.33 L271.23,247.24 L271.80,247.16 L272.36,247.09 L272.91,247.04 L273.46,247.00 L274.02,246.98 L274.60,246.98 L275.18,247.00 L275.75,247.04 L276.31,247.09 L276.87,247.16 L277.43,247.25 L278.00,247.35 L278.57,247.46 L279.16,247.58 L279.77,247.71 L280.40,247.85 L281.07,248.00 L281.78,248.18 L282.52,248.37 L283.28,248.58 L284.04,248.79 L284.79,249.01 L285.51,249.22 L286.20,249.42 L286.83,249.60 L287.40,249.77 L287.90,249.91 L288.35,250.04 L288.76,250.16 L289.12,250.27 L289.46,250.38 L289.78,250.48 L290.09,250.57 L290.39,250.66 L290.69,250.74 L291.00,250.82 L291.30,250.90 L291.57,250.98 L291.82,251.05 L292.06,251.12 L292.30,251.18 L292.55,251.23 L292.81,251.28 L293.10,251.33 L293.43,251.37 L293.80,251.40 L294.14,251.40 L294.39,251.40 L294.60,251.40 L294.82,251.40 L295.10,251.40 L295.48,251.40 L296.01,251.40 L296.74,251.40 L297.72,251.40 L299.00,251.40 L300.72,251.40 L302.92,251.40 L305.47,251.40 L308.25,251.40 L311.12,251.40 L313.98,251.40 L316.68,251.40 L319.10,251.40 L321.11,251.40 L322.60,251.40" fill="none" stroke="#ee3b3b" stroke-width="1.05" stroke-linejoin="round"/>
<clipPath id="cr"><rect x="175" y="200" width="148" height="52"/></clipPath>
<path d="M28.40,251.40 L29.76,251.40 L31.59,251.40 L33.78,251.40 L36.23,251.40 L38.82,251.40 L41.45,251.40 L43.99,251.40 L46.33,251.40 L48.37,251.40 L50.00,251.40 L51.23,251.39 L52.20,251.39 L52.95,251.38 L53.52,251.37 L53.98,251.35 L54.35,251.34 L54.69,251.32 L55.05,251.31 L55.47,251.28 L56.00,251.26 L56.60,251.23 L57.20,251.20 L57.80,251.17 L58.40,251.14 L59.00,251.10 L59.60,251.06 L60.20,251.02 L60.80,250.96 L61.40,250.90 L62.00,250.82 L62.60,250.74 L63.21,250.66 L63.82,250.58 L64.42,250.49 L65.03,250.39 L65.64,250.28 L66.24,250.15 L66.83,250.01 L67.42,249.85 L68.00,249.67 L68.57,249.48 L69.13,249.28 L69.69,249.07 L70.24,248.84 L70.78,248.60 L71.32,248.34 L71.87,248.05 L72.41,247.73 L72.95,247.37 L73.50,246.98 L74.06,246.55 L74.62,246.09 L75.20,245.61 L75.77,245.09 L76.34,244.54 L76.91,243.97 L77.46,243.37 L78.00,242.74 L78.51,242.09 L79.00,241.41 L79.46,240.70 L79.91,239.95 L80.34,239.17 L80.75,238.37 L81.14,237.54 L81.53,236.69 L81.91,235.82 L82.28,234.94 L82.64,234.05 L83.00,233.14 L83.34,232.28 L83.66,231.48 L83.95,230.71 L84.23,229.93 L84.51,229.11 L84.80,228.22 L85.10,227.24 L85.43,226.12 L85.79,224.83 L86.20,223.34 L86.63,221.74 L87.07,220.08 L87.52,218.34 L88.00,216.49 L88.49,214.50 L89.02,212.33 L89.59,209.95 L90.21,207.33 L90.88,204.44 L91.60,201.25 L92.41,197.63 L93.30,193.56 L94.26,189.13 L95.27,184.44 L96.31,179.59 L97.36,174.66 L98.41,169.76 L99.43,164.99 L100.40,160.43 L101.30,156.18 L102.15,152.16 L102.97,148.20 L103.77,144.32 L104.54,140.52 L105.29,136.82 L106.03,133.23 L106.76,129.75 L107.48,126.41 L108.19,123.21 L108.90,120.15 L109.61,117.24 L110.32,114.45 L111.02,111.78 L111.71,109.23 L112.39,106.81 L113.06,104.52 L113.71,102.37 L114.33,100.34 L114.93,98.46 L115.50,96.71 L116.04,95.13 L116.55,93.73 L117.04,92.49 L117.51,91.39 L117.96,90.41 L118.39,89.53 L118.80,88.73 L119.21,88.00 L119.61,87.30 L120.00,86.62 L120.38,85.98 L120.74,85.41 L121.08,84.91 L121.41,84.47 L121.73,84.10 L122.04,83.80 L122.35,83.56 L122.66,83.39 L122.98,83.29 L123.30,83.26 L123.63,83.29 L123.94,83.39 L124.26,83.56 L124.57,83.80 L124.88,84.10 L125.20,84.47 L125.53,84.91 L125.87,85.41 L126.23,85.98 L126.60,86.62 L126.99,87.30 L127.38,88.00 L127.79,88.73 L128.20,89.53 L128.63,90.41 L129.07,91.39 L129.53,92.49 L130.00,93.73 L130.49,95.13 L131.00,96.71 L131.52,98.46 L132.06,100.34 L132.61,102.37 L133.17,104.52 L133.76,106.81 L134.36,109.23 L134.98,111.78 L135.63,114.45 L136.30,117.24 L137.00,120.15 L137.74,123.21 L138.52,126.41 L139.33,129.75 L140.17,133.23 L141.03,136.82 L141.90,140.52 L142.77,144.32 L143.63,148.20 L144.48,152.16 L145.30,156.18 L146.13,160.47 L147.00,165.13 L147.88,170.05 L148.77,175.10 L149.64,180.16 L150.48,185.10 L151.27,189.80 L152.00,194.14 L152.65,198.00 L153.20,201.25 L153.64,203.82 L153.97,205.81 L154.22,207.34 L154.40,208.51 L154.53,209.43 L154.64,210.21 L154.76,210.97 L154.89,211.82 L155.06,212.86 L155.30,214.22 L155.59,215.84 L155.91,217.59 L156.25,219.44 L156.60,221.35 L156.97,223.29 L157.34,225.22 L157.70,227.11 L158.05,228.92 L158.39,230.63 L158.70,232.18 L159.00,233.63 L159.29,235.02 L159.57,236.35 L159.84,237.62 L160.11,238.82 L160.36,239.95 L160.61,241.01 L160.85,241.99 L161.08,242.89 L161.30,243.71 L161.51,244.43 L161.69,245.04 L161.87,245.56 L162.03,246.00 L162.19,246.37 L162.34,246.69 L162.50,246.97 L162.66,247.23 L162.82,247.49 L163.00,247.75 L163.19,248.00 L163.37,248.20 L163.56,248.38 L163.75,248.52 L163.95,248.64 L164.15,248.75 L164.35,248.84 L164.56,248.92 L164.78,249.01 L165.00,249.09 L165.23,249.18 L165.45,249.25 L165.68,249.32 L165.92,249.37 L166.16,249.42 L166.40,249.46 L166.66,249.49 L166.93,249.52 L167.21,249.55 L167.50,249.57 L167.81,249.60 L168.12,249.64 L168.44,249.67 L168.78,249.71 L169.12,249.73 L169.48,249.74 L169.84,249.74 L170.22,249.71 L170.60,249.66 L171.00,249.57 L171.41,249.46 L171.84,249.32 L172.28,249.15 L172.73,248.96 L173.19,248.76 L173.65,248.54 L174.12,248.30 L174.58,248.06 L175.05,247.81 L175.50,247.56 L175.95,247.30 L176.39,247.03 L176.83,246.75 L177.28,246.46 L177.72,246.16 L178.16,246.33 L178.61,246.01 L179.07,245.67 L179.53,245.33 L180.00,244.96 L180.47,244.60 L180.94,244.24 L181.40,243.88 L181.87,243.50 L182.34,243.11 L182.83,242.70 L183.34,242.25 L183.86,241.76 L184.42,241.23 L185.00,240.64 L185.63,239.96 L186.30,239.18 L187.02,238.34 L187.75,237.44 L188.50,236.53 L189.25,235.62 L189.98,234.74 L190.70,233.92 L191.37,233.19 L192.00,232.57 L192.58,232.05 L193.13,231.60 L193.65,231.22 L194.14,230.88 L194.62,230.59 L195.10,230.34 L195.56,230.11 L196.03,229.90 L196.51,229.70 L197.00,229.49 L197.50,229.30 L198.00,229.12 L198.50,228.96 L199.00,228.83 L199.50,228.71 L200.00,228.62 L200.50,228.54 L201.00,228.49 L201.50,228.45 L202.00,228.44 L202.50,228.44 L202.99,228.46 L203.48,228.50 L203.98,228.57 L204.47,228.65 L204.96,228.75 L205.46,228.88 L205.97,229.03 L206.48,229.20 L207.00,229.40 L207.52,229.61 L208.02,229.83 L208.53,230.07 L209.03,230.32 L209.54,230.60 L210.07,230.92 L210.63,231.28 L211.21,231.69 L211.83,232.14 L212.50,232.66 L213.23,233.28 L214.04,233.99 L214.90,234.79 L215.79,235.64 L216.70,236.51 L217.60,237.39 L218.49,238.25 L219.33,239.06 L220.10,239.80 L220.80,240.45 L221.42,241.00 L221.98,241.49 L222.50,241.94 L222.98,242.34 L223.43,242.71 L223.86,243.06 L224.27,243.39 L224.68,243.72 L225.08,244.04 L225.50,244.39 L225.91,244.73 L226.31,245.06 L226.69,245.39 L227.06,245.70 L227.42,246.01 L227.78,246.31 L228.14,246.60 L228.52,246.89 L228.90,247.17 L229.30,247.42 L229.72,247.69 L230.14,247.97 L230.58,248.26 L231.02,248.54 L231.47,248.82 L231.92,249.07 L232.37,249.31 L232.82,249.50 L233.26,249.66 L233.70,249.76 L234.13,249.80 L234.56,249.79 L234.98,249.74 L235.39,249.46 L235.81,249.34 L236.23,249.20 L236.66,249.04 L237.10,248.89 L237.54,248.74 L238.00,248.61 L238.48,248.49 L238.97,248.34 L239.48,248.19 L240.00,248.02 L240.52,247.86 L241.04,247.71 L241.55,247.56 L242.05,247.44 L242.54,247.34 L243.00,247.27 L243.44,247.23 L243.86,247.22 L244.27,247.23 L244.66,247.26 L245.05,247.30 L245.43,247.36 L245.82,247.41 L246.20,247.47 L246.60,247.52 L247.00,247.56 L247.41,247.60 L247.82,247.65 L248.23,247.71 L248.64,247.77 L249.05,247.83 L249.47,247.88 L249.89,247.92 L250.32,247.95 L250.75,247.96 L251.20,247.94 L251.66,247.90 L252.13,247.85 L252.61,247.79 L253.09,247.70 L253.58,247.61 L254.07,247.51 L254.56,247.39 L255.05,247.26 L255.53,247.13 L256.00,246.98 L256.45,246.83 L256.86,246.66 L257.26,246.48 L257.64,246.29 L258.04,246.09 L258.45,245.88 L258.89,245.66 L259.37,245.44 L259.90,245.20 L260.50,244.96 L261.17,244.70 L261.91,244.41 L262.71,244.11 L263.54,243.79 L264.41,243.47 L265.29,243.15 L266.17,242.85 L267.04,242.56 L267.89,242.30 L268.70,242.08 L269.48,241.88 L270.24,241.70 L270.99,241.53 L271.73,241.37 L272.47,241.24 L273.21,241.13 L273.96,241.04 L274.72,240.97 L275.50,240.93 L276.30,240.93 L277.12,240.95 L277.96,240.99 L278.81,241.05 L279.67,241.14 L280.54,241.25 L281.42,241.39 L282.30,241.56 L283.20,241.77 L284.10,242.00 L285.00,242.27 L285.92,242.60 L286.86,242.98 L287.83,243.41 L288.80,243.87 L289.77,244.36 L290.74,244.86 L291.69,245.35 L292.62,245.83 L293.53,246.28 L294.40,246.69 L295.25,247.07 L296.08,247.45 L296.91,247.82 L297.72,248.18 L298.51,248.53 L299.27,248.86 L300.00,249.17 L300.71,249.46 L301.37,249.72 L302.00,249.96 L302.58,250.16 L303.11,250.34 L303.61,250.49 L304.07,250.61 L304.51,250.72 L304.92,250.81 L305.32,250.90 L305.71,250.97 L306.10,251.04 L306.50,251.11 L306.85,251.18 L307.12,251.23 L307.34,251.27 L307.54,251.30 L307.74,251.33 L307.99,251.35 L308.31,251.36 L308.73,251.37 L309.29,251.39 L310.00,251.40 L310.95,251.40 L312.14,251.40 L313.51,251.40 L314.99,251.40 L316.52,251.40 L318.03,251.40 L319.46,251.40 L320.74,251.40 L321.81,251.40 L322.60,251.40" clip-path="url(#cr)" fill="none" stroke="#4a8fd8" stroke-width="1.45" stroke-linejoin="round"/>
<path d="M28.40,251.40 L29.63,251.40 L31.28,251.40 L33.27,251.40 L35.48,251.40 L37.82,251.40 L40.20,251.40 L42.50,251.40 L44.64,251.40 L46.50,251.40 L48.00,251.40 L49.15,251.39 L50.07,251.38 L50.80,251.37 L51.38,251.36 L51.85,251.34 L52.25,251.32 L52.63,251.30 L53.02,251.27 L53.46,251.24 L54.00,251.21 L54.60,251.17 L55.20,251.13 L55.80,251.09 L56.40,251.04 L57.00,250.99 L57.60,250.94 L58.20,250.87 L58.80,250.80 L59.40,250.72 L60.00,250.63 L60.60,250.54 L61.20,250.44 L61.80,250.34 L62.40,250.24 L63.00,250.12 L63.60,249.99 L64.20,249.85 L64.80,249.68 L65.40,249.50 L66.00,249.29 L66.60,249.06 L67.21,248.82 L67.82,248.57 L68.42,248.30 L69.03,248.01 L69.64,247.69 L70.24,247.35 L70.83,246.98 L71.42,246.57 L72.00,246.12 L72.58,245.62 L73.15,245.09 L73.72,244.51 L74.29,243.91 L74.86,243.28 L75.41,242.62 L75.95,241.95 L76.48,241.26 L77.00,240.57 L77.50,239.87 L77.98,239.17 L78.45,238.44 L78.90,237.71 L79.34,236.95 L79.76,236.19 L80.18,235.41 L80.59,234.62 L81.00,233.82 L81.40,233.01 L81.80,232.18 L82.18,231.41 L82.54,230.70 L82.88,230.03 L83.22,229.37 L83.55,228.67 L83.89,227.89 L84.25,227.01 L84.63,225.98 L85.04,224.77 L85.50,223.34 L85.98,221.78 L86.46,220.14 L86.95,218.41 L87.46,216.56 L87.99,214.56 L88.57,212.38 L89.19,209.98 L89.86,207.35 L90.59,204.45 L91.40,201.25 L92.30,197.63 L93.29,193.56 L94.36,189.13 L95.48,184.44 L96.64,179.59 L97.83,174.66 L99.01,169.76 L100.18,164.99 L101.32,160.43 L102.40,156.18 L103.46,152.11 L104.53,148.01 L105.61,143.94 L106.68,139.94 L107.74,136.07 L108.76,132.36 L109.75,128.87 L110.70,125.64 L111.58,122.72 L112.40,120.15 L113.14,117.98 L113.81,116.18 L114.41,114.69 L114.97,113.47 L115.49,112.46 L115.99,111.60 L116.48,110.85 L116.97,110.16 L117.47,109.47 L118.00,108.72 L118.54,107.96 L119.08,107.26 L119.61,106.63 L120.14,106.06 L120.67,105.57 L121.19,105.16 L121.72,104.84 L122.24,104.60 L122.77,104.45 L123.30,104.40 L123.83,104.45 L124.37,104.60 L124.90,104.84 L125.44,105.16 L125.97,105.57 L126.51,106.06 L127.04,106.63 L127.57,107.26 L128.09,107.96 L128.60,108.72 L129.09,109.47 L129.54,110.16 L129.98,110.85 L130.40,111.60 L130.83,112.46 L131.28,113.47 L131.76,114.69 L132.28,116.18 L132.85,117.98 L133.50,120.15 L134.22,122.72 L135.01,125.64 L135.86,128.87 L136.74,132.36 L137.66,136.07 L138.60,139.94 L139.54,143.94 L140.48,148.01 L141.41,152.11 L142.30,156.18 L143.20,160.47 L144.14,165.13 L145.11,170.05 L146.08,175.10 L147.04,180.16 L147.96,185.10 L148.84,189.80 L149.65,194.14 L150.38,198.00 L151.00,201.25 L151.50,203.82 L151.88,205.81 L152.18,207.34 L152.40,208.51 L152.58,209.43 L152.74,210.21 L152.89,210.97 L153.08,211.82 L153.30,212.86 L153.60,214.22 L153.96,215.84 L154.36,217.58 L154.79,219.41 L155.24,221.31 L155.69,223.23 L156.15,225.15 L156.60,227.04 L157.03,228.86 L157.43,230.59 L157.80,232.18 L158.14,233.69 L158.46,235.15 L158.76,236.56 L159.06,237.92 L159.33,239.22 L159.59,240.46 L159.84,241.63 L160.07,242.73 L160.29,243.74 L160.50,244.67 L160.69,245.51 L160.86,246.25 L161.01,246.91 L161.14,247.49 L161.27,248.01 L161.38,248.47 L161.49,248.88 L161.59,249.26 L161.70,249.62 L161.80,249.96 L161.89,250.27 L161.95,250.52 L161.99,250.72 L162.03,250.88 L162.07,251.01 L162.12,251.11 L162.18,251.19 L162.28,251.27 L162.42,251.33 L162.60,251.40 L162.82,251.40 L163.07,251.40 L163.35,251.40 L163.65,251.40 L163.97,251.40 L164.33,251.40 L164.71,251.40 L165.11,251.40 L165.54,251.40 L166.00,251.40 L166.51,251.40 L167.07,251.40 L167.69,251.40 L168.33,251.40 L168.99,251.40 L169.66,251.40 L170.30,251.40 L170.92,251.40 L171.49,251.40 L172.00,251.40 L172.45,251.34 L172.84,251.27 L173.20,251.20 L173.53,251.11 L173.84,251.02 L174.15,250.90 L174.46,250.77 L174.78,250.62 L175.12,250.45 L175.50,250.25 L175.91,250.02 L176.33,249.76 L176.76,249.48 L177.20,249.17 L177.66,248.85 L178.12,248.81 L178.58,248.51 L179.05,248.20 L179.53,247.89 L180.00,247.60 L180.47,247.30 L180.94,247.01 L181.40,246.70 L181.87,246.38 L182.34,246.06 L182.83,245.72 L183.34,245.37 L183.86,245.00 L184.42,244.61 L185.00,244.19 L185.63,243.73 L186.30,243.21 L187.02,242.66 L187.75,242.08 L188.50,241.50 L189.25,240.92 L189.98,240.37 L190.70,239.86 L191.37,239.40 L192.00,239.01 L192.58,238.68 L193.13,238.41 L193.65,238.17 L194.14,237.98 L194.62,237.81 L195.10,237.67 L195.56,237.54 L196.03,237.42 L196.51,237.30 L197.00,237.18 L197.50,237.06 L198.00,236.95 L198.50,236.85 L199.00,236.76 L199.50,236.69 L200.00,236.62 L200.50,236.57 L201.00,236.54 L201.50,236.52 L202.00,236.51 L202.50,236.52 L203.00,236.54 L203.50,236.58 L204.00,236.63 L204.51,236.70 L205.01,236.78 L205.51,236.87 L206.01,236.96 L206.50,237.07 L207.00,237.18 L207.48,237.29 L207.94,237.39 L208.38,237.50 L208.81,237.61 L209.26,237.74 L209.71,237.89 L210.20,238.06 L210.72,238.27 L211.28,238.52 L211.90,238.81 L212.59,239.18 L213.36,239.61 L214.19,240.09 L215.06,240.61 L215.94,241.15 L216.83,241.70 L217.70,242.23 L218.53,242.74 L219.30,243.21 L220.00,243.62 L220.63,243.97 L221.21,244.29 L221.76,244.59 L222.27,244.86 L222.76,245.11 L223.22,245.35 L223.67,245.58 L224.11,245.82 L224.55,246.06 L225.00,246.31 L225.44,246.57 L225.85,246.83 L226.25,247.09 L226.64,247.32 L227.02,247.55 L227.40,247.78 L227.78,248.00 L228.17,248.22 L228.58,248.43 L229.00,248.63 L229.44,248.83 L229.90,249.04 L230.37,249.24 L230.85,249.44 L231.33,249.63 L231.82,249.81 L232.30,249.98 L232.77,250.13 L233.24,250.26 L233.70,250.36 L234.14,250.44 L234.57,250.49 L235.00,250.51 L235.42,250.43 L235.83,250.42 L236.25,250.41 L236.67,250.39 L237.10,250.37 L237.54,250.35 L238.00,250.34 L238.46,250.34 L238.90,250.34 L239.35,250.34 L239.80,250.33 L240.26,250.33 L240.74,250.32 L241.24,250.30 L241.78,250.29 L242.37,250.27 L243.00,250.25 L243.71,250.22 L244.49,250.20 L245.33,250.17 L246.21,250.14 L247.11,250.11 L248.01,250.07 L248.89,250.03 L249.73,249.98 L250.50,249.93 L251.20,249.86 L251.82,249.79 L252.38,249.72 L252.90,249.64 L253.38,249.55 L253.83,249.46 L254.26,249.36 L254.69,249.26 L255.11,249.15 L255.55,249.03 L256.00,248.90 L256.45,248.77 L256.86,248.62 L257.26,248.46 L257.64,248.30 L258.04,248.13 L258.45,247.96 L258.89,247.79 L259.37,247.61 L259.90,247.44 L260.50,247.27 L261.17,247.10 L261.91,246.91 L262.71,246.73 L263.54,246.54 L264.41,246.36 L265.29,246.17 L266.17,246.00 L267.04,245.83 L267.89,245.68 L268.70,245.54 L269.48,245.41 L270.24,245.28 L270.99,245.16 L271.73,245.05 L272.47,244.94 L273.21,244.85 L273.96,244.78 L274.72,244.72 L275.50,244.69 L276.30,244.67 L277.12,244.68 L277.96,244.70 L278.81,244.74 L279.67,244.79 L280.54,244.87 L281.42,244.96 L282.30,245.07 L283.20,245.20 L284.10,245.36 L285.00,245.54 L285.92,245.76 L286.86,246.02 L287.83,246.31 L288.80,246.63 L289.77,246.97 L290.74,247.31 L291.69,247.64 L292.62,247.96 L293.53,248.26 L294.40,248.52 L295.25,248.75 L296.08,248.97 L296.91,249.18 L297.72,249.38 L298.51,249.57 L299.27,249.74 L300.00,249.91 L300.71,250.06 L301.37,250.21 L302.00,250.34 L302.58,250.47 L303.11,250.58 L303.61,250.68 L304.07,250.77 L304.51,250.85 L304.92,250.92 L305.32,250.99 L305.71,251.05 L306.10,251.11 L306.50,251.16 L306.85,251.21 L307.12,251.25 L307.34,251.28 L307.54,251.31 L307.74,251.33 L307.99,251.35 L308.31,251.36 L308.73,251.38 L309.29,251.39 L310.00,251.40 L310.95,251.40 L312.14,251.40 L313.51,251.40 L314.99,251.40 L316.52,251.40 L318.03,251.40 L319.46,251.40 L320.74,251.40 L321.81,251.40 L322.60,251.40" clip-path="url(#cr)" fill="none" stroke="#5cb95c" stroke-width="1.45" stroke-linejoin="round"/>
<path d="M28.40,251.40 L29.76,251.40 L31.59,251.40 L33.78,251.40 L36.23,251.40 L38.82,251.40 L41.45,251.40 L43.99,251.40 L46.33,251.40 L48.37,251.40 L50.00,251.40 L51.23,251.39 L52.20,251.38 L52.95,251.37 L53.52,251.36 L53.98,251.35 L54.35,251.33 L54.69,251.32 L55.05,251.30 L55.47,251.28 L56.00,251.26 L56.60,251.23 L57.20,251.21 L57.80,251.19 L58.40,251.17 L59.00,251.14 L59.60,251.12 L60.20,251.08 L60.80,251.04 L61.40,250.98 L62.00,250.92 L62.60,250.85 L63.21,250.78 L63.82,250.70 L64.42,250.62 L65.03,250.53 L65.64,250.43 L66.24,250.32 L66.83,250.18 L67.42,250.03 L68.00,249.86 L68.57,249.68 L69.13,249.49 L69.68,249.30 L70.22,249.09 L70.76,248.87 L71.30,248.62 L71.84,248.34 L72.39,248.02 L72.94,247.67 L73.50,247.27 L74.08,246.83 L74.67,246.34 L75.27,245.83 L75.88,245.27 L76.49,244.69 L77.10,244.08 L77.68,243.45 L78.25,242.79 L78.79,242.11 L79.30,241.41 L79.78,240.69 L80.23,239.93 L80.66,239.15 L81.07,238.35 L81.46,237.52 L81.84,236.68 L82.22,235.81 L82.58,234.93 L82.94,234.04 L83.30,233.14 L83.64,232.28 L83.96,231.48 L84.25,230.71 L84.54,229.93 L84.82,229.11 L85.11,228.22 L85.41,227.24 L85.74,226.12 L86.10,224.83 L86.50,223.34 L86.93,221.74 L87.37,220.08 L87.82,218.34 L88.29,216.49 L88.79,214.50 L89.31,212.33 L89.87,209.95 L90.47,207.33 L91.11,204.44 L91.80,201.25 L92.56,197.63 L93.40,193.56 L94.29,189.13 L95.23,184.44 L96.19,179.59 L97.17,174.66 L98.13,169.76 L99.07,164.99 L99.96,160.43 L100.80,156.18 L101.57,152.22 L102.30,148.40 L102.99,144.71 L103.66,141.12 L104.32,137.60 L104.97,134.13 L105.64,130.67 L106.32,127.21 L107.04,123.71 L107.80,120.15 L108.62,116.44 L109.51,112.54 L110.43,108.54 L111.38,104.51 L112.34,100.54 L113.28,96.69 L114.18,93.06 L115.03,89.72 L115.81,86.75 L116.50,84.22 L117.10,82.17 L117.62,80.54 L118.08,79.25 L118.50,78.25 L118.87,77.47 L119.21,76.85 L119.54,76.31 L119.85,75.81 L120.17,75.26 L120.50,74.61 L120.83,73.89 L121.14,73.19 L121.43,72.52 L121.71,71.88 L121.98,71.31 L122.24,70.81 L122.51,70.39 L122.77,70.08 L123.03,69.88 L123.30,69.81 L123.57,69.88 L123.83,70.08 L124.08,70.39 L124.32,70.81 L124.57,71.31 L124.83,71.88 L125.10,72.52 L125.38,73.19 L125.68,73.89 L126.00,74.61 L126.33,75.26 L126.65,75.81 L126.98,76.31 L127.31,76.85 L127.66,77.47 L128.04,78.25 L128.46,79.25 L128.92,80.54 L129.43,82.17 L130.00,84.22 L130.65,86.75 L131.37,89.72 L132.15,93.06 L132.98,96.69 L133.84,100.54 L134.71,104.51 L135.59,108.54 L136.46,112.54 L137.30,116.44 L138.10,120.15 L138.87,123.71 L139.62,127.21 L140.36,130.67 L141.09,134.13 L141.82,137.60 L142.54,141.12 L143.27,144.71 L144.01,148.40 L144.75,152.22 L145.50,156.18 L146.29,160.47 L147.12,165.13 L147.99,170.05 L148.86,175.10 L149.73,180.16 L150.56,185.10 L151.36,189.80 L152.09,194.14 L152.75,198.00 L153.30,201.25 L153.74,203.82 L154.08,205.81 L154.33,207.34 L154.53,208.51 L154.68,209.43 L154.80,210.21 L154.93,210.97 L155.07,211.82 L155.26,212.86 L155.50,214.22 L155.80,215.84 L156.12,217.61 L156.46,219.47 L156.82,221.40 L157.18,223.35 L157.55,225.29 L157.91,227.18 L158.26,228.98 L158.59,230.66 L158.90,232.18 L159.19,233.57 L159.48,234.89 L159.75,236.13 L160.02,237.30 L160.28,238.40 L160.52,239.42 L160.76,240.37 L160.98,241.24 L161.20,242.03 L161.40,242.75 L161.59,243.37 L161.75,243.88 L161.91,244.29 L162.05,244.61 L162.18,244.88 L162.31,245.10 L162.43,245.28 L162.55,245.46 L162.67,245.63 L162.80,245.83 L162.92,246.02 L163.04,246.17 L163.15,246.29 L163.26,246.39 L163.36,246.48 L163.47,246.56 L163.59,246.65 L163.71,246.74 L163.85,246.85 L164.00,246.98 L164.17,247.14 L164.35,247.32 L164.54,247.51 L164.74,247.71 L164.95,247.91 L165.16,248.11 L165.37,248.31 L165.59,248.49 L165.80,248.66 L166.00,248.81 L166.20,248.93 L166.38,249.05 L166.57,249.15 L166.75,249.25 L166.94,249.33 L167.13,249.41 L167.33,249.48 L167.54,249.55 L167.76,249.61 L168.00,249.67 L168.25,249.73 L168.51,249.79 L168.78,249.85 L169.06,249.91 L169.34,249.96 L169.64,250.00 L169.96,250.02 L170.29,250.02 L170.63,250.00 L171.00,249.96 L171.39,249.89 L171.80,249.80 L172.24,249.69 L172.69,249.56 L173.16,249.41 L173.63,249.25 L174.10,249.08 L174.58,248.90 L175.04,248.71 L175.50,248.52 L175.95,248.32 L176.39,248.11 L176.83,247.89 L177.28,247.65 L177.72,247.41 L178.16,247.58 L178.61,247.34 L179.07,247.09 L179.53,246.81 L180.00,246.50 L180.47,246.18 L180.94,245.86 L181.40,245.52 L181.87,245.17 L182.34,244.81 L182.83,244.44 L183.34,244.04 L183.86,243.63 L184.42,243.20 L185.00,242.75 L185.63,242.26 L186.30,241.71 L187.02,241.12 L187.75,240.52 L188.50,239.90 L189.25,239.29 L189.98,238.71 L190.70,238.17 L191.37,237.69 L192.00,237.28 L192.58,236.93 L193.13,236.64 L193.65,236.40 L194.14,236.19 L194.62,236.02 L195.10,235.86 L195.56,235.73 L196.03,235.60 L196.51,235.48 L197.00,235.35 L197.50,235.23 L198.00,235.12 L198.50,235.02 L199.00,234.93 L199.50,234.86 L200.00,234.79 L200.50,234.75 L201.00,234.71 L201.50,234.69 L202.00,234.68 L202.50,234.69 L203.00,234.71 L203.50,234.75 L204.00,234.79 L204.51,234.86 L205.01,234.93 L205.51,235.02 L206.01,235.12 L206.50,235.23 L207.00,235.35 L207.48,235.48 L207.94,235.61 L208.38,235.74 L208.81,235.88 L209.26,236.04 L209.71,236.22 L210.20,236.43 L210.72,236.67 L211.28,236.95 L211.90,237.28 L212.59,237.66 L213.36,238.12 L214.19,238.63 L215.06,239.17 L215.94,239.73 L216.83,240.30 L217.70,240.87 L218.53,241.41 L219.30,241.92 L220.00,242.37 L220.63,242.78 L221.21,243.16 L221.76,243.53 L222.27,243.88 L222.76,244.21 L223.22,244.52 L223.67,244.83 L224.11,245.14 L224.55,245.43 L225.00,245.73 L225.44,246.02 L225.85,246.31 L226.25,246.58 L226.64,246.85 L227.02,247.10 L227.40,247.33 L227.78,247.55 L228.17,247.77 L228.58,247.99 L229.00,248.20 L229.44,248.42 L229.90,248.64 L230.37,248.86 L230.85,249.08 L231.33,249.29 L231.82,249.49 L232.30,249.68 L232.77,249.85 L233.24,249.99 L233.70,250.10 L234.14,250.19 L234.57,250.24 L235.00,250.27 L235.42,250.15 L235.83,250.14 L236.25,250.13 L236.67,250.10 L237.10,250.08 L237.54,250.06 L238.00,250.05 L238.46,250.05 L238.90,250.05 L239.35,250.05 L239.80,250.04 L240.26,250.03 L240.74,250.02 L241.24,250.01 L241.78,249.99 L242.37,249.98 L243.00,249.96 L243.71,249.94 L244.49,249.93 L245.33,249.91 L246.21,249.90 L247.11,249.88 L248.01,249.86 L248.89,249.83 L249.73,249.79 L250.50,249.74 L251.20,249.67 L251.82,249.59 L252.38,249.51 L252.90,249.41 L253.38,249.30 L253.83,249.19 L254.26,249.07 L254.69,248.94 L255.11,248.81 L255.55,248.66 L256.00,248.52 L256.45,248.36 L256.86,248.20 L257.26,248.03 L257.64,247.85 L258.04,247.66 L258.45,247.47 L258.89,247.28 L259.37,247.08 L259.90,246.89 L260.50,246.69 L261.17,246.49 L261.91,246.29 L262.71,246.07 L263.54,245.85 L264.41,245.64 L265.29,245.42 L266.17,245.22 L267.04,245.02 L267.89,244.84 L268.70,244.67 L269.48,244.52 L270.24,244.37 L270.99,244.22 L271.73,244.08 L272.47,243.95 L273.21,243.84 L273.96,243.75 L274.72,243.68 L275.50,243.63 L276.30,243.62 L277.12,243.63 L277.96,243.66 L278.81,243.71 L279.67,243.78 L280.54,243.88 L281.42,243.99 L282.30,244.13 L283.20,244.29 L284.10,244.47 L285.00,244.67 L285.92,244.92 L286.86,245.20 L287.83,245.52 L288.80,245.87 L289.77,246.23 L290.74,246.60 L291.69,246.96 L292.62,247.31 L293.53,247.64 L294.40,247.94 L295.25,248.22 L296.08,248.49 L296.91,248.75 L297.72,249.00 L298.51,249.24 L299.27,249.47 L300.00,249.69 L300.71,249.89 L301.37,250.08 L302.00,250.25 L302.58,250.40 L303.11,250.53 L303.61,250.64 L304.07,250.74 L304.51,250.83 L304.92,250.91 L305.32,250.98 L305.71,251.04 L306.10,251.10 L306.50,251.16 L306.85,251.21 L307.12,251.25 L307.34,251.29 L307.54,251.32 L307.74,251.34 L307.99,251.35 L308.31,251.37 L308.73,251.38 L309.29,251.39 L310.00,251.40 L310.95,251.40 L312.14,251.40 L313.51,251.40 L314.99,251.40 L316.52,251.40 L318.03,251.40 L319.46,251.40 L320.74,251.40 L321.81,251.40 L322.60,251.40" clip-path="url(#cr)" fill="none" stroke="#3a3a3a" stroke-width="1.45" stroke-linejoin="round"/>
<path d="M28.40,251.40 L29.76,251.40 L31.59,251.40 L33.78,251.40 L36.23,251.40 L38.82,251.40 L41.45,251.40 L43.99,251.40 L46.33,251.40 L48.37,251.40 L50.00,251.40 L51.23,251.39 L52.20,251.38 L52.95,251.37 L53.52,251.36 L53.98,251.35 L54.35,251.33 L54.69,251.32 L55.05,251.30 L55.47,251.28 L56.00,251.26 L56.60,251.23 L57.20,251.21 L57.80,251.19 L58.40,251.17 L59.00,251.15 L59.60,251.12 L60.20,251.09 L60.80,251.04 L61.40,250.99 L62.00,250.92 L62.60,250.84 L63.21,250.77 L63.82,250.68 L64.42,250.59 L65.03,250.49 L65.64,250.38 L66.24,250.25 L66.83,250.11 L67.42,249.95 L68.00,249.77 L68.57,249.57 L69.13,249.37 L69.69,249.17 L70.24,248.94 L70.78,248.70 L71.32,248.44 L71.87,248.15 L72.41,247.83 L72.95,247.47 L73.50,247.08 L74.06,246.64 L74.62,246.17 L75.20,245.68 L75.77,245.15 L76.34,244.59 L76.91,244.00 L77.46,243.39 L78.00,242.76 L78.51,242.09 L79.00,241.41 L79.46,240.69 L79.91,239.95 L80.34,239.17 L80.75,238.36 L81.14,237.53 L81.53,236.69 L81.91,235.82 L82.28,234.94 L82.64,234.05 L83.00,233.14 L83.34,232.28 L83.66,231.48 L83.95,230.71 L84.23,229.93 L84.51,229.11 L84.80,228.22 L85.10,227.24 L85.43,226.12 L85.79,224.83 L86.20,223.34 L86.64,221.74 L87.11,220.08 L87.60,218.34 L88.12,216.49 L88.66,214.50 L89.21,212.33 L89.79,209.95 L90.38,207.33 L90.98,204.44 L91.60,201.25 L92.25,197.63 L92.94,193.56 L93.65,189.13 L94.39,184.44 L95.14,179.59 L95.89,174.66 L96.63,169.76 L97.35,164.99 L98.04,160.43 L98.70,156.18 L99.32,152.22 L99.90,148.40 L100.46,144.71 L101.00,141.12 L101.53,137.60 L102.06,134.13 L102.59,130.67 L103.14,127.21 L103.71,123.71 L104.30,120.15 L104.92,116.50 L105.56,112.74 L106.21,108.93 L106.87,105.11 L107.54,101.32 L108.21,97.59 L108.89,93.98 L109.56,90.52 L110.24,87.25 L110.90,84.22 L111.57,81.38 L112.27,78.67 L112.98,76.09 L113.69,73.65 L114.39,71.35 L115.08,69.19 L115.75,67.19 L116.38,65.34 L116.97,63.65 L117.50,62.12 L117.98,60.81 L118.42,59.72 L118.82,58.82 L119.18,58.09 L119.52,57.50 L119.84,57.00 L120.14,56.58 L120.43,56.19 L120.71,55.81 L121.00,55.40 L121.28,54.99 L121.54,54.64 L121.78,54.35 L122.01,54.10 L122.23,53.90 L122.44,53.74 L122.66,53.62 L122.87,53.54 L123.08,53.49 L123.30,53.48 L123.52,53.49 L123.73,53.54 L123.93,53.62 L124.12,53.74 L124.32,53.90 L124.53,54.10 L124.75,54.35 L124.98,54.64 L125.23,54.99 L125.50,55.40 L125.78,55.81 L126.07,56.19 L126.36,56.58 L126.66,57.00 L126.98,57.50 L127.32,58.09 L127.69,58.82 L128.09,59.72 L128.52,60.81 L129.00,62.12 L129.53,63.65 L130.11,65.34 L130.73,67.19 L131.38,69.19 L132.06,71.35 L132.76,73.65 L133.46,76.09 L134.15,78.67 L134.84,81.38 L135.50,84.22 L136.16,87.25 L136.83,90.52 L137.51,93.98 L138.20,97.59 L138.88,101.32 L139.54,105.11 L140.20,108.93 L140.83,112.74 L141.43,116.50 L142.00,120.15 L142.52,123.71 L142.97,127.21 L143.39,130.67 L143.78,134.13 L144.16,137.60 L144.55,141.12 L144.96,144.71 L145.41,148.40 L145.92,152.22 L146.50,156.18 L147.18,160.47 L147.96,165.13 L148.80,170.05 L149.69,175.10 L150.60,180.16 L151.49,185.10 L152.35,189.80 L153.14,194.14 L153.83,198.00 L154.40,201.25 L154.84,203.82 L155.17,205.81 L155.41,207.34 L155.58,208.51 L155.71,209.43 L155.82,210.21 L155.94,210.97 L156.07,211.82 L156.25,212.86 L156.50,214.22 L156.81,215.83 L157.16,217.56 L157.53,219.38 L157.92,221.26 L158.32,223.17 L158.72,225.08 L159.12,226.97 L159.50,228.80 L159.87,230.55 L160.20,232.18 L160.51,233.75 L160.82,235.30 L161.11,236.82 L161.40,238.30 L161.67,239.73 L161.93,241.09 L162.17,242.38 L162.40,243.57 L162.61,244.66 L162.80,245.64 L162.97,246.48 L163.11,247.21 L163.23,247.83 L163.33,248.36 L163.43,248.82 L163.51,249.21 L163.58,249.55 L163.65,249.86 L163.72,250.15 L163.80,250.44 L163.85,250.70 L163.87,250.89 L163.85,251.04 L163.83,251.15 L163.81,251.22 L163.82,251.27 L163.87,251.30 L163.97,251.33 L164.14,251.36 L164.40,251.40 L164.75,251.40 L165.16,251.40 L165.64,251.40 L166.16,251.40 L166.74,251.40 L167.35,251.40 L167.99,251.40 L168.65,251.40 L169.32,251.40 L170.00,251.40 L170.73,251.40 L171.53,251.40 L172.38,251.40 L173.27,251.40 L174.16,251.40 L175.04,251.40 L175.89,251.40 L176.68,251.40 L177.39,251.40 L178.00,251.40 L178.50,251.33 L178.90,251.25 L179.24,251.16 L179.51,251.06 L179.75,250.95 L179.97,250.82 L180.18,250.68 L180.42,250.53 L180.68,250.36 L181.00,250.19 L181.35,250.00 L181.69,249.81 L182.03,249.60 L182.38,249.38 L182.75,249.15 L183.14,248.91 L183.55,248.65 L183.99,248.37 L184.47,248.08 L185.00,247.77 L185.59,247.42 L186.24,247.03 L186.94,246.56 L187.68,246.06 L188.44,245.56 L189.20,245.07 L189.95,244.59 L190.68,244.15 L191.37,243.76 L192.00,243.43 L192.58,243.15 L193.13,242.92 L193.65,242.72 L194.14,242.55 L194.62,242.41 L195.10,242.29 L195.56,242.18 L196.03,242.08 L196.51,241.99 L197.00,241.89 L197.50,241.79 L198.00,241.71 L198.50,241.63 L199.00,241.57 L199.50,241.52 L200.00,241.47 L200.50,241.44 L201.00,241.42 L201.50,241.41 L202.00,241.41 L202.50,241.42 L203.00,241.44 L203.50,241.47 L204.00,241.51 L204.51,241.56 L205.01,241.62 L205.51,241.69 L206.01,241.78 L206.50,241.88 L207.00,241.98 L207.48,242.10 L207.94,242.23 L208.38,242.36 L208.81,242.51 L209.26,242.66 L209.71,242.84 L210.20,243.02 L210.72,243.23 L211.28,243.46 L211.90,243.71 L212.60,244.00 L213.37,244.34 L214.21,244.70 L215.08,245.09 L215.98,245.49 L216.87,245.89 L217.73,246.28 L218.56,246.65 L219.32,246.98 L220.00,247.25 L220.60,247.47 L221.15,247.67 L221.65,247.85 L222.12,248.02 L222.55,248.16 L222.96,248.30 L223.35,248.43 L223.73,248.55 L224.11,248.68 L224.50,248.81 L224.87,248.93 L225.20,249.05 L225.50,249.15 L225.78,249.25 L226.06,249.35 L226.35,249.45 L226.66,249.54 L226.99,249.64 L227.37,249.74 L227.80,249.84 L228.30,249.96 L228.86,250.07 L229.46,250.20 L230.10,250.32 L230.75,250.44 L231.40,250.56 L232.04,250.68 L232.64,250.79 L233.20,250.88 L233.70,250.97 L234.13,251.04 L234.52,251.11 L234.86,251.16 L235.17,251.19 L235.47,251.24 L235.75,251.28 L236.04,251.32 L236.34,251.35 L236.65,251.37 L237.00,251.40 L237.37,251.40 L237.74,251.40 L238.12,251.40 L238.50,251.40 L238.89,251.40 L239.29,251.40 L239.70,251.40 L240.12,251.40 L240.56,251.40 L241.00,251.40 L241.46,251.40 L241.93,251.40 L242.42,251.40 L242.92,251.40 L243.42,251.40 L243.94,251.40 L244.45,251.40 L244.97,251.40 L245.49,251.40 L246.00,251.40 L246.51,251.37 L247.03,251.32 L247.56,251.28 L248.08,251.22 L248.61,251.16 L249.14,251.10 L249.66,251.03 L250.18,250.96 L250.70,250.89 L251.20,250.82 L251.70,250.75 L252.19,250.68 L252.68,250.61 L253.16,250.53 L253.64,250.45 L254.12,250.37 L254.59,250.29 L255.07,250.21 L255.53,250.13 L256.00,250.05 L256.45,249.98 L256.86,249.91 L257.26,249.85 L257.64,249.79 L258.04,249.72 L258.45,249.66 L258.89,249.58 L259.37,249.50 L259.90,249.40 L260.50,249.29 L261.18,249.15 L261.94,249.00 L262.76,248.83 L263.62,248.65 L264.51,248.46 L265.41,248.28 L266.29,248.10 L267.15,247.93 L267.96,247.78 L268.70,247.65 L269.38,247.54 L270.03,247.43 L270.64,247.33 L271.23,247.24 L271.80,247.16 L272.36,247.09 L272.91,247.04 L273.46,247.00 L274.02,246.98 L274.60,246.98 L275.18,247.00 L275.75,247.04 L276.31,247.09 L276.87,247.16 L277.43,247.25 L278.00,247.35 L278.57,247.46 L279.16,247.58 L279.77,247.71 L280.40,247.85 L281.07,248.00 L281.78,248.18 L282.52,248.37 L283.28,248.58 L284.04,248.79 L284.79,249.01 L285.51,249.22 L286.20,249.42 L286.83,249.60 L287.40,249.77 L287.90,249.91 L288.35,250.04 L288.76,250.16 L289.12,250.27 L289.46,250.38 L289.78,250.48 L290.09,250.57 L290.39,250.66 L290.69,250.74 L291.00,250.82 L291.30,250.90 L291.57,250.98 L291.82,251.05 L292.06,251.12 L292.30,251.18 L292.55,251.23 L292.81,251.28 L293.10,251.33 L293.43,251.37 L293.80,251.40 L294.14,251.40 L294.39,251.40 L294.60,251.40 L294.82,251.40 L295.10,251.40 L295.48,251.40 L296.01,251.40 L296.74,251.40 L297.72,251.40 L299.00,251.40 L300.72,251.40 L302.92,251.40 L305.47,251.40 L308.25,251.40 L311.12,251.40 L313.98,251.40 L316.68,251.40 L319.10,251.40 L321.11,251.40 L322.60,251.40" clip-path="url(#cr)" fill="none" stroke="#ee3b3b" stroke-width="1.45" stroke-linejoin="round"/>
<rect x="175.2" y="214.0" width="147.30" height="37.40" fill="#f3af33" fill-opacity="0.25" stroke="#ee8a70" stroke-opacity="0.45" stroke-width="0.7"/>
<path d="M224.50,178.94 L224.80,178.38 L225.09,177.79 L225.39,177.19 L225.68,176.56 L225.98,175.91 L226.28,176.28 L226.58,175.58 L226.88,174.85 L227.19,174.09 L227.50,173.30 L227.81,172.51 L228.12,171.72 L228.43,170.93 L228.75,170.12 L229.06,169.28 L229.39,168.37 L229.72,167.40 L230.08,166.34 L230.44,165.18 L230.83,163.89 L231.25,162.42 L231.70,160.73 L232.18,158.89 L232.67,156.94 L233.17,154.95 L233.67,152.97 L234.16,151.07 L234.63,149.29 L235.08,147.69 L235.50,146.34 L235.89,145.21 L236.25,144.24 L236.60,143.40 L236.93,142.67 L237.25,142.04 L237.56,141.49 L237.88,141.00 L238.19,140.54 L238.51,140.10 L238.83,139.65 L239.17,139.23 L239.50,138.84 L239.83,138.50 L240.17,138.21 L240.50,137.96 L240.83,137.75 L241.17,137.58 L241.50,137.46 L241.83,137.39 L242.17,137.36 L242.50,137.36 L242.83,137.41 L243.16,137.50 L243.48,137.63 L243.81,137.81 L244.14,138.04 L244.48,138.31 L244.81,138.64 L245.15,139.01 L245.50,139.44 L245.84,139.91 L246.18,140.39 L246.52,140.90 L246.85,141.45 L247.20,142.07 L247.55,142.76 L247.92,143.54 L248.31,144.42 L248.72,145.42 L249.17,146.55 L249.66,147.88 L250.19,149.44 L250.77,151.17 L251.36,153.01 L251.97,154.92 L252.57,156.84 L253.16,158.70 L253.72,160.47 L254.24,162.08 L254.70,163.48 L255.11,164.68 L255.49,165.76 L255.84,166.72 L256.15,167.60 L256.45,168.40 L256.74,169.15 L257.01,169.88 L257.28,170.59 L257.56,171.30 L257.83,172.04 L258.11,172.79 L258.37,173.52 L258.62,174.22 L258.87,174.91 L259.11,175.57 L259.35,176.22 L259.60,176.86 L259.84,177.49 L260.10,178.09 L260.37,178.65 L260.64,179.23 L260.93,179.84 L261.22,180.46 L261.51,181.08 L261.81,181.68 L262.11,182.24 L262.41,182.74 L262.71,183.17 L263.01,183.50 L263.30,183.73 L263.59,183.82 L263.87,183.81 L264.15,183.70 L264.43,183.09 L264.71,182.82 L264.99,182.51 L265.27,182.17 L265.56,181.83 L265.86,181.52 L266.17,181.24 L266.48,180.97 L266.81,180.65 L267.15,180.31 L267.50,179.96 L267.85,179.61 L268.19,179.27 L268.53,178.96 L268.87,178.69 L269.19,178.47 L269.50,178.31 L269.79,178.23 L270.07,178.21 L270.34,178.23 L270.61,178.30 L270.87,178.39 L271.12,178.50 L271.38,178.63 L271.64,178.75 L271.90,178.85 L272.17,178.94 L272.44,179.03 L272.71,179.14 L272.98,179.27 L273.26,179.40 L273.53,179.53 L273.81,179.64 L274.09,179.73 L274.38,179.79 L274.67,179.81 L274.97,179.78 L275.27,179.70 L275.58,179.58 L275.90,179.44 L276.23,179.26 L276.55,179.06 L276.88,178.83 L277.21,178.58 L277.53,178.30 L277.85,178.00 L278.17,177.69 L278.46,177.35 L278.74,176.99 L279.00,176.60 L279.26,176.19 L279.52,175.75 L279.80,175.30 L280.09,174.83 L280.41,174.33 L280.77,173.82 L281.17,173.30 L281.62,172.73 L282.11,172.11 L282.64,171.44 L283.19,170.75 L283.77,170.05 L284.36,169.36 L284.95,168.69 L285.53,168.07 L286.09,167.51 L286.63,167.03 L287.15,166.60 L287.66,166.20 L288.16,165.83 L288.65,165.49 L289.15,165.20 L289.64,164.95 L290.14,164.76 L290.65,164.62 L291.17,164.54 L291.70,164.52 L292.25,164.56 L292.81,164.65 L293.37,164.79 L293.94,164.98 L294.52,165.23 L295.11,165.53 L295.70,165.91 L296.30,166.35 L296.90,166.86 L297.50,167.45 L298.11,168.15 L298.74,168.98 L299.38,169.92 L300.03,170.93 L300.68,171.99 L301.32,173.07 L301.96,174.15 L302.58,175.19 L303.19,176.17 L303.77,177.06 L304.33,177.89 L304.89,178.72 L305.44,179.52 L305.98,180.30 L306.50,181.06 L307.01,181.77 L307.50,182.45 L307.97,183.08 L308.42,183.65 L308.83,184.17 L309.22,184.61 L309.58,184.99 L309.91,185.31 L310.21,185.59 L310.50,185.82 L310.78,186.03 L311.05,186.20 L311.31,186.37 L311.57,186.52 L311.83,186.67 L312.07,186.81 L312.25,186.93 L312.39,187.02 L312.52,187.09 L312.66,187.14 L312.83,187.18 L313.04,187.22 L313.32,187.24 L313.69,187.27 L314.17,187.30 L314.80,187.30 L315.59,187.30 L316.51,187.30 L317.49,187.30 L318.51,187.30 L319.52,187.30 L320.47,187.30 L321.33,187.30 L322.04,187.30 L322.57,187.30" fill="none" stroke="#4a8fd8" stroke-width="0.7" stroke-linejoin="round" opacity="0.95"/>
<path d="M224.50,184.79 L224.77,184.30 L225.05,183.74 L225.34,183.12 L225.64,182.46 L225.94,181.76 L226.24,181.67 L226.55,181.00 L226.87,180.34 L227.18,179.67 L227.50,179.02 L227.81,178.39 L228.12,177.76 L228.43,177.07 L228.75,176.38 L229.06,175.68 L229.39,174.95 L229.72,174.19 L230.08,173.39 L230.44,172.54 L230.83,171.63 L231.25,170.62 L231.70,169.49 L232.18,168.29 L232.67,167.03 L233.17,165.76 L233.67,164.51 L234.16,163.31 L234.63,162.19 L235.08,161.19 L235.50,160.34 L235.89,159.64 L236.25,159.04 L236.60,158.53 L236.93,158.11 L237.25,157.74 L237.56,157.43 L237.88,157.15 L238.19,156.89 L238.51,156.63 L238.83,156.37 L239.17,156.11 L239.50,155.87 L239.83,155.66 L240.17,155.47 L240.50,155.30 L240.83,155.16 L241.17,155.05 L241.50,154.97 L241.83,154.93 L242.17,154.91 L242.50,154.93 L242.83,154.98 L243.17,155.07 L243.50,155.18 L243.84,155.33 L244.17,155.50 L244.50,155.69 L244.84,155.90 L245.17,156.13 L245.50,156.37 L245.82,156.61 L246.12,156.84 L246.42,157.07 L246.71,157.31 L247.00,157.59 L247.31,157.91 L247.63,158.29 L247.98,158.74 L248.35,159.28 L248.77,159.92 L249.23,160.71 L249.74,161.65 L250.29,162.70 L250.87,163.83 L251.46,165.01 L252.05,166.19 L252.63,167.36 L253.18,168.47 L253.70,169.48 L254.17,170.37 L254.59,171.15 L254.98,171.85 L255.34,172.48 L255.68,173.07 L256.00,173.62 L256.31,174.14 L256.61,174.66 L256.91,175.17 L257.20,175.70 L257.50,176.25 L257.79,176.82 L258.07,177.40 L258.33,177.97 L258.59,178.49 L258.85,179.01 L259.10,179.52 L259.35,180.02 L259.61,180.51 L259.88,181.00 L260.17,181.48 L260.46,181.96 L260.77,182.45 L261.08,182.95 L261.40,183.46 L261.72,183.95 L262.04,184.44 L262.36,184.91 L262.68,185.35 L263.00,185.75 L263.30,186.11 L263.60,186.41 L263.88,186.65 L264.16,186.85 L264.44,186.80 L264.72,186.94 L265.00,187.06 L265.28,187.17 L265.57,187.27 L265.86,187.39 L266.17,187.52 L266.47,187.61 L266.77,187.61 L267.07,187.61 L267.36,187.61 L267.67,187.61 L267.99,187.61 L268.33,187.61 L268.69,187.61 L269.08,187.61 L269.50,187.61 L269.97,187.61 L270.49,187.36 L271.05,187.04 L271.64,186.68 L272.24,186.28 L272.84,185.89 L273.43,185.51 L273.98,185.16 L274.50,184.84 L274.97,184.54 L275.38,184.28 L275.75,184.02 L276.10,183.78 L276.42,183.54 L276.72,183.29 L277.01,183.04 L277.29,182.78 L277.58,182.51 L277.86,182.23 L278.17,181.94 L278.46,181.63 L278.74,181.30 L279.00,180.95 L279.26,180.59 L279.52,180.22 L279.80,179.84 L280.09,179.46 L280.41,179.07 L280.77,178.69 L281.17,178.32 L281.62,177.94 L282.11,177.55 L282.64,177.14 L283.19,176.73 L283.77,176.33 L284.36,175.93 L284.95,175.55 L285.53,175.19 L286.09,174.85 L286.63,174.55 L287.15,174.27 L287.66,174.00 L288.16,173.73 L288.65,173.48 L289.15,173.26 L289.64,173.06 L290.14,172.90 L290.65,172.78 L291.17,172.70 L291.70,172.67 L292.25,172.69 L292.81,172.73 L293.37,172.81 L293.94,172.93 L294.52,173.09 L295.11,173.29 L295.70,173.53 L296.30,173.82 L296.90,174.16 L297.50,174.55 L298.11,175.03 L298.74,175.59 L299.38,176.24 L300.03,176.93 L300.68,177.66 L301.32,178.40 L301.96,179.13 L302.58,179.82 L303.19,180.46 L303.77,181.03 L304.33,181.54 L304.89,182.02 L305.44,182.48 L305.98,182.90 L306.50,183.31 L307.01,183.69 L307.50,184.05 L307.97,184.39 L308.42,184.70 L308.83,185.00 L309.22,185.27 L309.58,185.52 L309.91,185.73 L310.21,185.93 L310.50,186.10 L310.78,186.26 L311.05,186.41 L311.31,186.54 L311.57,186.66 L311.83,186.78 L312.07,186.88 L312.25,186.97 L312.39,187.04 L312.52,187.10 L312.66,187.15 L312.83,187.19 L313.04,187.22 L313.32,187.25 L313.69,187.27 L314.17,187.30 L314.80,187.30 L315.59,187.30 L316.51,187.30 L317.49,187.30 L318.51,187.30 L319.52,187.30 L320.47,187.30 L321.33,187.30 L322.04,187.30 L322.57,187.30" fill="none" stroke="#5cb95c" stroke-width="0.7" stroke-linejoin="round" opacity="0.95"/>
<path d="M224.50,181.03 L224.80,180.59 L225.09,180.13 L225.39,179.66 L225.68,179.15 L225.98,178.63 L226.28,179.00 L226.58,178.48 L226.88,177.94 L227.19,177.31 L227.50,176.64 L227.81,175.95 L228.12,175.25 L228.43,174.52 L228.75,173.76 L229.06,172.97 L229.39,172.15 L229.72,171.30 L230.08,170.41 L230.44,169.47 L230.83,168.49 L231.25,167.42 L231.70,166.23 L232.18,164.95 L232.67,163.63 L233.17,162.29 L233.67,160.97 L234.16,159.70 L234.63,158.53 L235.08,157.48 L235.50,156.58 L235.89,155.84 L236.25,155.21 L236.60,154.67 L236.93,154.22 L237.25,153.84 L237.56,153.51 L237.88,153.21 L238.19,152.94 L238.51,152.67 L238.83,152.40 L239.17,152.13 L239.50,151.89 L239.83,151.67 L240.17,151.48 L240.50,151.32 L240.83,151.18 L241.17,151.08 L241.50,151.00 L241.83,150.95 L242.17,150.94 L242.50,150.95 L242.83,151.00 L243.17,151.08 L243.50,151.18 L243.84,151.32 L244.17,151.48 L244.50,151.67 L244.84,151.89 L245.17,152.13 L245.50,152.40 L245.82,152.68 L246.12,152.95 L246.42,153.24 L246.71,153.55 L247.00,153.89 L247.31,154.28 L247.63,154.73 L247.98,155.26 L248.35,155.87 L248.77,156.58 L249.23,157.43 L249.74,158.41 L250.29,159.52 L250.87,160.70 L251.46,161.92 L252.05,163.17 L252.63,164.39 L253.18,165.57 L253.70,166.67 L254.17,167.66 L254.59,168.55 L254.98,169.39 L255.34,170.18 L255.68,170.94 L256.00,171.66 L256.31,172.36 L256.61,173.03 L256.91,173.69 L257.20,174.35 L257.50,175.00 L257.79,175.64 L258.07,176.27 L258.33,176.88 L258.59,177.47 L258.85,178.04 L259.10,178.55 L259.35,179.06 L259.61,179.56 L259.88,180.06 L260.17,180.56 L260.46,181.08 L260.77,181.62 L261.08,182.17 L261.40,182.73 L261.72,183.28 L262.04,183.82 L262.36,184.35 L262.68,184.84 L263.00,185.29 L263.30,185.68 L263.60,186.02 L263.88,186.29 L264.16,186.51 L264.44,186.42 L264.72,186.58 L265.00,186.71 L265.28,186.83 L265.57,186.95 L265.86,187.08 L266.17,187.23 L266.47,187.39 L266.77,187.52 L267.07,187.61 L267.36,187.61 L267.67,187.61 L267.99,187.61 L268.33,187.61 L268.69,187.61 L269.08,187.61 L269.50,187.58 L269.97,187.39 L270.49,187.13 L271.05,186.80 L271.64,186.43 L272.24,186.02 L272.84,185.62 L273.43,185.22 L273.98,184.86 L274.50,184.52 L274.97,184.21 L275.38,183.91 L275.75,183.61 L276.10,183.32 L276.42,183.03 L276.72,182.73 L277.01,182.43 L277.29,182.11 L277.58,181.79 L277.86,181.46 L278.17,181.12 L278.46,180.76 L278.74,180.39 L279.00,180.00 L279.26,179.60 L279.52,179.19 L279.80,178.77 L280.09,178.34 L280.41,177.92 L280.77,177.49 L281.17,177.07 L281.62,176.63 L282.11,176.18 L282.64,175.71 L283.19,175.24 L283.77,174.76 L284.36,174.30 L284.95,173.85 L285.53,173.42 L286.09,173.03 L286.63,172.67 L287.15,172.34 L287.66,172.00 L288.16,171.68 L288.65,171.38 L289.15,171.10 L289.64,170.86 L290.14,170.66 L290.65,170.51 L291.17,170.41 L291.70,170.37 L292.25,170.40 L292.81,170.46 L293.37,170.57 L293.94,170.73 L294.52,170.93 L295.11,171.19 L295.70,171.48 L296.30,171.83 L296.90,172.23 L297.50,172.67 L298.11,173.20 L298.74,173.82 L299.38,174.52 L300.03,175.27 L300.68,176.05 L301.32,176.85 L301.96,177.65 L302.58,178.41 L303.19,179.13 L303.77,179.78 L304.33,180.38 L304.89,180.96 L305.44,181.53 L305.98,182.08 L306.50,182.60 L307.01,183.10 L307.50,183.58 L307.97,184.02 L308.42,184.42 L308.83,184.79 L309.22,185.12 L309.58,185.41 L309.91,185.66 L310.21,185.87 L310.50,186.07 L310.78,186.23 L311.05,186.38 L311.31,186.52 L311.57,186.65 L311.83,186.78 L312.07,186.89 L312.25,186.98 L312.39,187.06 L312.52,187.12 L312.66,187.16 L312.83,187.20 L313.04,187.23 L313.32,187.25 L313.69,187.28 L314.17,187.30 L314.80,187.30 L315.59,187.30 L316.51,187.30 L317.49,187.30 L318.51,187.30 L319.52,187.30 L320.47,187.30 L321.33,187.30 L322.04,187.30 L322.57,187.30" fill="none" stroke="#3a3a3a" stroke-width="0.7" stroke-linejoin="round" opacity="0.95"/>
<path d="M224.76,187.30 L225.29,187.30 L225.76,187.30 L226.17,187.30 L226.50,187.16 L226.77,186.98 L226.99,186.79 L227.17,186.56 L227.33,186.31 L227.48,186.04 L227.62,185.73 L227.78,185.40 L227.95,185.05 L228.17,184.67 L228.40,184.26 L228.63,183.84 L228.85,183.39 L229.09,182.91 L229.33,182.41 L229.59,181.88 L229.87,181.31 L230.16,180.71 L230.48,180.08 L230.83,179.40 L231.22,178.65 L231.66,177.79 L232.13,176.76 L232.62,175.69 L233.12,174.60 L233.63,173.53 L234.14,172.50 L234.62,171.54 L235.08,170.68 L235.50,169.96 L235.89,169.36 L236.25,168.85 L236.60,168.42 L236.93,168.06 L237.25,167.75 L237.56,167.48 L237.88,167.25 L238.19,167.03 L238.51,166.82 L238.83,166.61 L239.17,166.40 L239.50,166.22 L239.83,166.06 L240.17,165.92 L240.50,165.80 L240.83,165.71 L241.17,165.64 L241.50,165.59 L241.83,165.57 L242.17,165.57 L242.50,165.59 L242.83,165.63 L243.17,165.69 L243.50,165.78 L243.84,165.89 L244.17,166.03 L244.50,166.19 L244.84,166.37 L245.17,166.58 L245.50,166.82 L245.82,167.08 L246.12,167.35 L246.42,167.64 L246.71,167.95 L247.00,168.30 L247.31,168.67 L247.63,169.08 L247.98,169.54 L248.35,170.03 L248.77,170.58 L249.23,171.21 L249.75,171.94 L250.31,172.73 L250.89,173.58 L251.48,174.45 L252.08,175.32 L252.66,176.16 L253.21,176.96 L253.71,177.68 L254.17,178.27 L254.57,178.76 L254.93,179.20 L255.27,179.58 L255.58,179.94 L255.87,180.26 L256.14,180.55 L256.40,180.83 L256.66,181.10 L256.91,181.37 L257.17,181.65 L257.41,181.92 L257.63,182.17 L257.83,182.40 L258.02,182.61 L258.21,182.82 L258.40,183.03 L258.60,183.23 L258.83,183.43 L259.08,183.64 L259.37,183.86 L259.70,184.09 L260.07,184.33 L260.47,184.57 L260.90,184.81 L261.33,185.03 L261.77,185.24 L262.19,185.43 L262.60,185.60 L262.97,185.74 L263.30,185.86 L263.59,185.96 L263.84,186.04 L264.07,186.11 L264.28,186.13 L264.48,186.18 L264.67,186.22 L264.86,186.25 L265.06,186.27 L265.27,186.28 L265.50,186.28 L265.74,186.22 L265.99,186.16 L266.24,186.11 L266.50,186.05 L266.76,186.00 L267.03,185.96 L267.30,185.92 L267.58,185.89 L267.87,185.86 L268.17,185.84 L268.47,185.84 L268.79,185.84 L269.11,185.86 L269.45,185.89 L269.78,185.93 L270.13,185.98 L270.47,186.05 L270.81,186.12 L271.16,186.20 L271.50,186.28 L271.84,186.29 L272.19,186.29 L272.54,186.27 L272.89,186.23 L273.24,186.18 L273.59,186.12 L273.94,186.05 L274.29,185.96 L274.63,185.87 L274.97,185.77 L275.30,185.67 L275.63,185.55 L275.95,185.42 L276.28,185.28 L276.60,185.13 L276.91,184.98 L277.23,184.82 L277.54,184.66 L277.86,184.50 L278.17,184.34 L278.46,184.19 L278.74,184.05 L279.00,183.91 L279.26,183.78 L279.52,183.64 L279.80,183.50 L280.09,183.34 L280.41,183.15 L280.77,182.94 L281.17,182.70 L281.62,182.41 L282.13,182.08 L282.67,181.71 L283.25,181.32 L283.84,180.91 L284.44,180.51 L285.03,180.12 L285.60,179.76 L286.14,179.43 L286.63,179.15 L287.09,178.90 L287.52,178.67 L287.93,178.45 L288.32,178.25 L288.70,178.08 L289.07,177.93 L289.44,177.81 L289.81,177.73 L290.18,177.69 L290.57,177.69 L290.95,177.73 L291.33,177.81 L291.71,177.93 L292.08,178.09 L292.45,178.27 L292.83,178.49 L293.22,178.73 L293.61,178.99 L294.01,179.27 L294.43,179.57 L294.88,179.90 L295.35,180.29 L295.85,180.71 L296.35,181.16 L296.86,181.63 L297.36,182.10 L297.84,182.56 L298.30,183.00 L298.72,183.40 L299.10,183.75 L299.43,184.06 L299.73,184.34 L300.00,184.61 L300.25,184.85 L300.47,185.08 L300.69,185.29 L300.89,185.49 L301.09,185.68 L301.29,185.87 L301.50,186.05 L301.70,186.22 L301.88,186.38 L302.05,186.54 L302.21,186.68 L302.37,186.82 L302.53,186.94 L302.71,187.05 L302.90,187.15 L303.12,187.23 L303.37,187.30 L303.59,187.30 L303.76,187.30 L303.90,187.30 L304.05,187.30 L304.23,187.30 L304.49,187.30 L304.84,187.30 L305.33,187.30 L305.98,187.30 L306.83,187.30 L307.98,187.30 L309.45,187.30 L311.15,187.30 L313.00,187.30 L314.92,187.30 L316.82,187.30 L318.62,187.30 L320.23,187.30 L321.58,187.30 L322.57,187.30" fill="none" stroke="#ee3b3b" stroke-width="0.7" stroke-linejoin="round" opacity="0.95"/>
<line x1="229" y1="29.80" x2="257.6" y2="29.80" stroke="#4a8fd8" stroke-width="1"/>
<line x1="243.3" y1="28.70" x2="243.3" y2="30.90" stroke="#4a8fd8" stroke-width="0.8"/>
<line x1="229" y1="46.40" x2="257.6" y2="46.40" stroke="#5cb95c" stroke-width="1"/>
<line x1="243.3" y1="45.30" x2="243.3" y2="47.50" stroke="#5cb95c" stroke-width="0.8"/>
<line x1="229" y1="62.80" x2="257.6" y2="62.80" stroke="#3a3a3a" stroke-width="1"/>
<line x1="243.3" y1="61.70" x2="243.3" y2="63.90" stroke="#3a3a3a" stroke-width="0.8"/>
<line x1="229" y1="79.70" x2="257.6" y2="79.70" stroke="#ee3b3b" stroke-width="1"/>
<line x1="243.3" y1="78.60" x2="243.3" y2="80.80" stroke="#ee3b3b" stroke-width="0.8"/>
<text x="21.50" y="254.90" font-size="9.8" text-anchor="start" textLength="4.30" lengthAdjust="spacingAndGlyphs" >0</text>
<text x="17.20" y="206.86" font-size="9.8" text-anchor="start" textLength="8.60" lengthAdjust="spacingAndGlyphs" >50</text>
<text x="12.90" y="158.82" font-size="9.8" text-anchor="start" textLength="12.90" lengthAdjust="spacingAndGlyphs" >100</text>
<text x="12.90" y="110.78" font-size="9.8" text-anchor="start" textLength="12.90" lengthAdjust="spacingAndGlyphs" >150</text>
<text x="12.90" y="62.74" font-size="9.8" text-anchor="start" textLength="12.90" lengthAdjust="spacingAndGlyphs" >200</text>
<text x="12.90" y="14.70" font-size="9.8" text-anchor="start" textLength="12.90" lengthAdjust="spacingAndGlyphs" >250</text>
<text x="20.05" y="264.70" font-size="9.8" text-anchor="start" textLength="17.10" lengthAdjust="spacingAndGlyphs" xml:space="preserve">0. 01</text>
<text x="71.20" y="264.70" font-size="9.8" text-anchor="start" textLength="12.80" lengthAdjust="spacingAndGlyphs" xml:space="preserve">0. 1</text>
<text x="124.45" y="264.70" font-size="9.8" text-anchor="start" textLength="4.30" lengthAdjust="spacingAndGlyphs" xml:space="preserve">1</text>
<text x="171.30" y="264.70" font-size="9.8" text-anchor="start" textLength="8.60" lengthAdjust="spacingAndGlyphs" xml:space="preserve">10</text>
<text x="218.15" y="264.70" font-size="9.8" text-anchor="start" textLength="12.90" lengthAdjust="spacingAndGlyphs" xml:space="preserve">100</text>
<text x="265.00" y="264.70" font-size="9.8" text-anchor="start" textLength="17.20" lengthAdjust="spacingAndGlyphs" xml:space="preserve">1000</text>
<text x="311.85" y="264.70" font-size="9.8" text-anchor="start" textLength="21.50" lengthAdjust="spacingAndGlyphs" xml:space="preserve">10000</text>
<text x="101.20" y="279.20" font-size="13.2" text-anchor="start" font-weight="bold" textLength="163.10" lengthAdjust="spacingAndGlyphs" >Transverse relaxation time/ms</text>
<text transform="translate(9.8,196.3) rotate(-90)" font-size="13.8" font-weight="bold" text-anchor="start" textLength="130.6" lengthAdjust="spacingAndGlyphs">Signal amplitude/(a.u)</text>
<text x="121.3" y="306.9" font-size="16" textLength="89.7" lengthAdjust="spacingAndGlyphs">(a)<tspan font-style="italic">T</tspan><tspan font-style="italic" font-size="10.5" dy="1.3">2</tspan><tspan dy="-1.3"> spectrum</tspan></text>
<text x="260.90" y="33.90" font-size="12.1" text-anchor="start" textLength="57.80" lengthAdjust="spacingAndGlyphs" >F30M00A0</text>
<text x="260.90" y="50.50" font-size="12.1" text-anchor="start" textLength="57.80" lengthAdjust="spacingAndGlyphs" >F30M10A4</text>
<text x="260.90" y="67.10" font-size="12.1" text-anchor="start" textLength="57.80" lengthAdjust="spacingAndGlyphs" >F30M20A8</text>
<text x="260.90" y="83.70" font-size="12.1" text-anchor="start" textLength="57.80" lengthAdjust="spacingAndGlyphs" >F50M10A4</text>
<rect x="388.10" y="210.97" width="15.2" height="47.83" fill="#e9a99d" stroke="#4a4a4a" stroke-width="0.7"/>
<rect x="403.30" y="208.68" width="15.2" height="50.12" fill="#b3ddec" stroke="#4a4a4a" stroke-width="0.7"/>
<rect x="418.50" y="202.83" width="15.2" height="55.97" fill="#90cdbc" stroke="#4a4a4a" stroke-width="0.7"/>
<rect x="433.70" y="208.17" width="15.2" height="50.63" fill="#a0a9c5" stroke="#4a4a4a" stroke-width="0.7"/>
<rect x="464.00" y="111.25" width="15.2" height="147.55" fill="#e9a99d" stroke="#4a4a4a" stroke-width="0.7"/>
<rect x="479.20" y="110.48" width="15.2" height="148.32" fill="#b3ddec" stroke="#4a4a4a" stroke-width="0.7"/>
<rect x="494.40" y="97.76" width="15.2" height="161.04" fill="#90cdbc" stroke="#4a4a4a" stroke-width="0.7"/>
<rect x="509.60" y="108.45" width="15.2" height="150.35" fill="#a0a9c5" stroke="#4a4a4a" stroke-width="0.7"/>
<rect x="539.90" y="213.01" width="15.2" height="45.79" fill="#e9a99d" stroke="#4a4a4a" stroke-width="0.7"/>
<rect x="555.10" y="215.55" width="15.2" height="43.25" fill="#b3ddec" stroke="#4a4a4a" stroke-width="0.7"/>
<rect x="570.30" y="228.27" width="15.2" height="30.53" fill="#90cdbc" stroke="#4a4a4a" stroke-width="0.7"/>
<rect x="585.50" y="218.10" width="15.2" height="40.70" fill="#a0a9c5" stroke="#4a4a4a" stroke-width="0.7"/>
<rect x="615.80" y="246.59" width="15.2" height="12.21" fill="#e9a99d" stroke="#4a4a4a" stroke-width="0.7"/>
<rect x="631.00" y="249.90" width="15.2" height="8.90" fill="#b3ddec" stroke="#4a4a4a" stroke-width="0.7"/>
<rect x="646.20" y="254.98" width="15.2" height="3.82" fill="#90cdbc" stroke="#4a4a4a" stroke-width="0.7"/>
<rect x="661.40" y="249.13" width="15.2" height="9.67" fill="#a0a9c5" stroke="#4a4a4a" stroke-width="0.7"/>
<rect x="380.5" y="4.4" width="303.40" height="254.40" fill="none" stroke="#363636" stroke-width="1.2"/>
<g stroke="#363636" stroke-width="1">
<line x1="380.5" y1="233.36" x2="384.7" y2="233.36"/>
<line x1="380.5" y1="207.92" x2="384.7" y2="207.92"/>
<line x1="380.5" y1="182.48" x2="384.7" y2="182.48"/>
<line x1="380.5" y1="157.04" x2="384.7" y2="157.04"/>
<line x1="380.5" y1="131.60" x2="384.7" y2="131.60"/>
<line x1="380.5" y1="106.16" x2="384.7" y2="106.16"/>
<line x1="380.5" y1="80.72" x2="384.7" y2="80.72"/>
<line x1="380.5" y1="55.28" x2="384.7" y2="55.28"/>
<line x1="380.5" y1="29.84" x2="384.7" y2="29.84"/>
</g>
<rect x="386.4" y="6.4" width="64.40" height="77.00" fill="#b1dceb"/>
<rect x="450.8" y="6.4" width="231.00" height="77.00" fill="#fdebdb"/>
<g fill="none" stroke="#1a1a1a" stroke-width="1.3">
<rect x="386.4" y="6.4" width="295.40" height="77.00"/>
<line x1="450.8" y1="6.4" x2="450.8" y2="83.4"/>
<line x1="508.3" y1="6.4" x2="508.3" y2="83.4"/>
<line x1="566.5" y1="6.4" x2="566.5" y2="83.4"/>
<line x1="624.5" y1="6.4" x2="624.5" y2="83.4"/>
<line x1="386.4" y1="47.4" x2="681.8" y2="47.4"/>
</g>
<rect x="556.3" y="89.10" width="35.1" height="19.0" fill="#e9a99d" stroke="#555" stroke-width="0.9"/>
<rect x="556.3" y="112.80" width="35.1" height="19.0" fill="#b3ddec" stroke="#555" stroke-width="0.9"/>
<rect x="556.3" y="136.50" width="35.1" height="19.0" fill="#90cdbc" stroke="#555" stroke-width="0.9"/>
<rect x="556.3" y="160.20" width="35.1" height="19.0" fill="#a0a9c5" stroke="#555" stroke-width="0.9"/>
<text x="370.75" y="262.20" font-size="10.2" text-anchor="start" textLength="4.45" lengthAdjust="spacingAndGlyphs" >0</text>
<text x="366.30" y="236.76" font-size="10.2" text-anchor="start" textLength="8.90" lengthAdjust="spacingAndGlyphs" >10</text>
<text x="366.30" y="211.32" font-size="10.2" text-anchor="start" textLength="8.90" lengthAdjust="spacingAndGlyphs" >20</text>
<text x="366.30" y="185.88" font-size="10.2" text-anchor="start" textLength="8.90" lengthAdjust="spacingAndGlyphs" >30</text>
<text x="366.30" y="160.44" font-size="10.2" text-anchor="start" textLength="8.90" lengthAdjust="spacingAndGlyphs" >40</text>
<text x="366.30" y="135.00" font-size="10.2" text-anchor="start" textLength="8.90" lengthAdjust="spacingAndGlyphs" >50</text>
<text x="366.30" y="109.56" font-size="10.2" text-anchor="start" textLength="8.90" lengthAdjust="spacingAndGlyphs" >60</text>
<text x="366.30" y="84.12" font-size="10.2" text-anchor="start" textLength="8.90" lengthAdjust="spacingAndGlyphs" >70</text>
<text x="366.30" y="58.68" font-size="10.2" text-anchor="start" textLength="8.90" lengthAdjust="spacingAndGlyphs" >80</text>
<text x="366.30" y="33.24" font-size="10.2" text-anchor="start" textLength="8.90" lengthAdjust="spacingAndGlyphs" >90</text>
<text x="361.85" y="7.40" font-size="10.2" text-anchor="start" textLength="13.35" lengthAdjust="spacingAndGlyphs" >100</text>
<text transform="translate(364.1,172.5) rotate(-90)" font-size="12.6" text-anchor="start" textLength="82.7" lengthAdjust="spacingAndGlyphs">Porosity ratio/%</text>
<text x="400.30" y="273.00" font-size="10.2" text-anchor="start" textLength="36.40" lengthAdjust="spacingAndGlyphs" >0-0.01μm</text>
<text x="472.30" y="273.00" font-size="10.2" text-anchor="start" textLength="44.20" lengthAdjust="spacingAndGlyphs" >0.01-0.1μm</text>
<text x="554.30" y="273.00" font-size="10.2" text-anchor="start" textLength="32.00" lengthAdjust="spacingAndGlyphs" >0.1-1μm</text>
<text x="629.25" y="273.00" font-size="10.2" text-anchor="start" textLength="33.90" lengthAdjust="spacingAndGlyphs" >1-100μm</text>
<text x="464.10" y="306.90" font-size="15.2" text-anchor="start" textLength="113.50" lengthAdjust="spacingAndGlyphs" >(b)Pore proportion</text>
<text x="402.90" y="31.90" font-size="12.3" text-anchor="start" textLength="33.00" lengthAdjust="spacingAndGlyphs" >Sample</text>
<text x="394.75" y="69.80" font-size="12.3" text-anchor="start" textLength="49.30" lengthAdjust="spacingAndGlyphs" >Porosity/%</text>
<text x="453.95" y="31.30" font-size="12.3" text-anchor="start" textLength="51.20" lengthAdjust="spacingAndGlyphs" >F50M00A4</text>
<text x="470.10" y="69.20" font-size="12.3" text-anchor="start" textLength="18.90" lengthAdjust="spacingAndGlyphs" >3.47</text>
<text x="511.90" y="31.30" font-size="12.3" text-anchor="start" textLength="51.00" lengthAdjust="spacingAndGlyphs" >F30M00A0</text>
<text x="527.90" y="69.20" font-size="12.3" text-anchor="start" textLength="19.00" lengthAdjust="spacingAndGlyphs" >3.02</text>
<text x="570.00" y="31.30" font-size="12.3" text-anchor="start" textLength="51.00" lengthAdjust="spacingAndGlyphs" >F30M10A4</text>
<text x="586.00" y="69.20" font-size="12.3" text-anchor="start" textLength="19.00" lengthAdjust="spacingAndGlyphs" >2.39</text>
<text x="627.75" y="31.30" font-size="12.3" text-anchor="start" textLength="50.80" lengthAdjust="spacingAndGlyphs" >F30M20A8</text>
<text x="643.65" y="69.20" font-size="12.3" text-anchor="start" textLength="19.00" lengthAdjust="spacingAndGlyphs" >3.15</text>
<text x="596.10" y="105.50" font-size="19.4" text-anchor="start" textLength="82.80" lengthAdjust="spacingAndGlyphs" >F50M00A4</text>
<text x="596.10" y="129.20" font-size="19.4" text-anchor="start" textLength="82.80" lengthAdjust="spacingAndGlyphs" >F30M00A0</text>
<text x="596.10" y="152.30" font-size="19.4" text-anchor="start" textLength="82.80" lengthAdjust="spacingAndGlyphs" >F30M10A4</text>
<text x="596.10" y="175.50" font-size="19.4" text-anchor="start" textLength="82.80" lengthAdjust="spacingAndGlyphs" >F30M20A8</text>
</svg>
</body></html>
